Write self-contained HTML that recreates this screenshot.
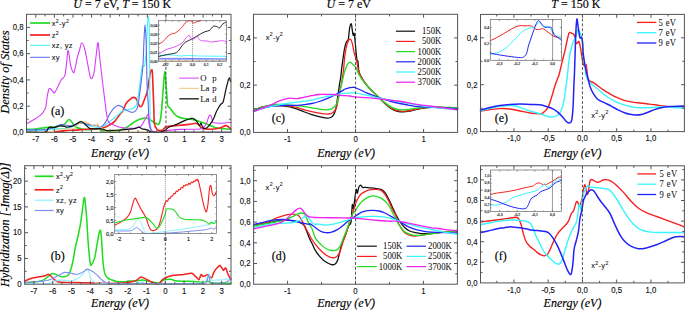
<!DOCTYPE html><html><head><meta charset="utf-8"><style>html,body{margin:0;padding:0;background:#fff;overflow:hidden}svg{display:block}</style></head><body><svg width="685" height="310" viewBox="0 0 685 310">
<style>.tk{font-family:"Liberation Sans",sans-serif;fill:#111;stroke:#111;stroke-width:0.12px}.sr{font-family:"Liberation Serif",serif;fill:#000;stroke:#000;stroke-width:0.15px}.ti{font-family:"Liberation Serif",serif;fill:#000;stroke:#000;stroke-width:0.15px}.tki{font-family:"Liberation Sans",sans-serif;fill:#111;stroke:#111;stroke-width:0.28px}.lg{font-family:"Liberation Sans",sans-serif;fill:#111;stroke:#111;stroke-width:0.08px}.lgs{font-family:"Liberation Serif",serif;fill:#111;stroke:#111;stroke-width:0.05px}</style>
<rect width="685" height="310" fill="#fff"/>
<path d="M26.50 129.30C27.97 129.25 32.69 129.27 35.70 129.00C38.71 128.73 43.14 127.89 45.30 127.60C47.46 127.31 47.65 127.34 49.20 127.20C50.75 127.06 52.68 127.08 55.00 126.70C57.32 126.32 61.46 125.95 63.70 124.80C65.94 123.65 67.37 119.50 69.00 119.50C70.63 119.50 72.78 123.57 73.90 124.80C75.02 126.03 74.90 126.58 76.00 127.20C77.10 127.82 79.25 128.32 80.80 128.70C82.35 129.08 84.15 129.46 85.70 129.60C87.25 129.74 88.96 129.74 90.50 129.60C92.04 129.46 93.91 128.78 95.30 128.70C96.69 128.62 97.95 128.72 99.20 129.10C100.45 129.48 101.40 130.70 103.10 131.10C104.80 131.50 107.64 131.60 109.80 131.60C111.96 131.60 114.97 131.34 116.60 131.10C118.23 130.86 118.69 130.56 120.00 130.10C121.31 129.64 123.25 128.97 124.80 128.20C126.35 127.43 128.15 126.31 129.70 125.30C131.25 124.29 132.96 122.83 134.50 121.90C136.04 120.97 137.75 120.12 139.30 119.50C140.85 118.88 142.81 118.16 144.20 118.00C145.59 117.84 146.77 118.04 148.00 118.50C149.23 118.96 150.65 120.13 151.90 120.90C153.15 121.67 154.71 122.76 155.80 123.30C156.89 123.84 157.93 125.07 158.70 124.30C159.47 123.53 160.06 121.75 160.60 118.50C161.14 115.25 161.64 109.36 162.10 104.00C162.56 98.64 163.07 90.20 163.50 85.00C163.93 79.80 164.40 71.68 164.80 71.50C165.20 71.32 165.62 79.24 166.00 83.90C166.38 88.56 166.90 97.06 167.20 100.60C167.50 104.14 167.34 104.67 167.90 106.00C168.46 107.33 169.68 107.67 170.70 108.90C171.72 110.13 173.15 112.44 174.30 113.70C175.45 114.96 176.36 116.03 177.90 116.80C179.44 117.57 181.80 118.12 183.90 118.50C186.00 118.88 188.71 118.82 191.00 119.20C193.29 119.58 195.53 120.07 198.20 120.90C200.87 121.73 204.64 123.26 207.70 124.40C210.76 125.54 213.86 127.23 217.30 128.00C220.74 128.77 227.01 129.01 229.20 129.20C231.00 129.39 230.71 129.20 231.00 129.20" fill="none" stroke="#1edc1e" stroke-width="1.6" stroke-linejoin="round" stroke-linecap="round"/>
<path d="M55.00 132.00C56.55 131.78 61.34 130.90 64.70 130.60C68.06 130.30 72.64 130.31 76.00 130.10C79.36 129.89 82.61 129.52 85.70 129.30C88.79 129.08 92.98 128.88 95.30 128.70C97.62 128.52 98.65 128.44 100.20 128.20C101.75 127.96 103.46 127.74 105.00 127.20C106.54 126.66 108.25 125.73 109.80 124.80C111.35 123.87 113.07 123.10 114.70 121.40C116.33 119.70 118.69 115.90 120.00 114.20C121.31 112.50 121.92 112.51 122.90 110.80C123.88 109.09 124.80 105.44 126.10 103.50C127.40 101.56 129.70 99.68 131.00 98.70C132.30 97.72 133.30 97.27 134.20 97.40C135.10 97.53 135.83 98.25 136.60 99.50C137.37 100.75 138.36 104.03 139.00 105.20C139.64 106.37 140.07 106.80 140.60 106.80C141.13 106.80 141.64 106.50 142.30 105.20C142.96 103.90 143.93 100.76 144.70 98.70C145.47 96.64 146.46 94.88 147.10 92.30C147.74 89.72 148.19 85.70 148.70 82.60C149.21 79.50 149.84 74.96 150.30 72.90C150.76 70.84 151.26 69.70 151.60 69.70C151.94 69.70 152.14 69.28 152.40 72.90C152.66 76.52 152.96 86.36 153.20 92.30C153.44 98.24 153.72 105.04 153.90 110.00C154.08 114.96 153.90 120.24 154.30 123.30C154.76 126.36 155.94 127.93 156.80 129.10C157.66 130.27 158.77 130.47 159.70 130.60C160.63 130.73 161.67 130.44 162.60 129.90C163.53 129.36 164.57 127.76 165.50 127.20C166.43 126.64 166.88 126.62 168.40 126.40C169.92 126.18 171.77 126.12 175.00 125.80C178.23 125.48 185.27 124.82 188.60 124.40C191.93 123.98 194.14 123.10 195.80 123.20C197.46 123.30 198.04 124.23 199.00 125.00C199.96 125.77 200.04 127.33 201.80 128.00C203.56 128.67 207.14 129.20 210.00 129.20C212.86 129.20 217.20 128.58 219.70 128.00C222.20 127.42 224.27 125.84 225.60 125.60C226.93 125.36 227.23 126.00 228.00 126.50C228.77 127.00 230.02 128.35 230.40 128.70" fill="none" stroke="#f52020" stroke-width="1.6" stroke-linejoin="round" stroke-linecap="round"/>
<path d="M26.50 130.30C29.51 130.30 41.51 130.49 45.30 130.30C49.09 130.11 47.88 129.36 50.20 129.10C52.52 128.84 56.71 128.92 59.80 128.70C62.89 128.48 66.91 128.24 69.50 127.70C72.09 127.16 74.19 126.00 76.00 125.30C77.81 124.60 79.25 123.46 80.80 123.30C82.35 123.14 84.15 123.84 85.70 124.30C87.25 124.76 88.18 125.74 90.50 126.20C92.82 126.66 97.88 127.34 100.20 127.20C102.52 127.06 103.46 126.23 105.00 125.30C106.54 124.37 108.25 122.65 109.80 121.40C111.35 120.15 113.07 118.81 114.70 117.50C116.33 116.19 118.69 114.27 120.00 113.20C121.31 112.13 121.67 111.34 122.90 110.80C124.13 110.26 126.15 110.18 127.70 109.80C129.25 109.42 131.27 109.02 132.60 108.40C133.93 107.78 135.23 107.08 136.00 105.90C136.77 104.72 136.79 104.47 137.40 101.00C138.01 97.53 139.14 89.21 139.80 84.20C140.46 79.19 141.10 72.53 141.50 69.70C141.90 66.87 141.79 67.28 142.30 66.50C142.81 65.72 144.06 67.44 144.70 64.80C145.34 62.16 145.87 56.37 146.30 50.00C146.73 43.63 147.08 30.36 147.40 25.00C147.72 19.64 148.01 16.50 148.30 16.50C148.59 16.50 148.99 19.64 149.20 25.00C149.41 30.36 149.50 41.20 149.60 50.00C149.70 58.80 149.74 70.66 149.80 80.00C149.86 89.34 149.94 101.47 150.00 108.40C150.06 115.33 150.00 119.75 150.20 123.30C150.50 126.85 151.16 129.22 151.90 130.60C152.64 131.98 151.90 131.68 154.80 131.90C167.46 132.12 218.81 131.98 231.00 132.00" fill="none" stroke="#38f4ff" stroke-width="1.1" stroke-linejoin="round" stroke-linecap="round"/>
<path d="M26.50 129.90C29.51 129.84 41.06 129.85 45.30 129.50C49.54 129.15 50.52 128.50 53.00 127.70C55.48 126.90 58.93 124.93 60.80 124.50C62.67 124.07 62.99 124.79 64.70 125.00C66.41 125.21 69.80 125.91 71.50 125.80C73.20 125.69 73.81 124.76 75.30 124.30C76.79 123.84 79.14 122.98 80.80 122.90C82.46 122.82 84.15 123.45 85.70 123.80C87.25 124.15 88.96 124.86 90.50 125.10C92.04 125.34 93.75 125.04 95.30 125.30C96.85 125.56 98.95 126.70 100.20 126.70C101.45 126.70 102.17 126.15 103.10 125.30C104.03 124.45 105.07 122.95 106.00 121.40C106.93 119.85 107.97 117.30 108.90 115.60C109.83 113.90 110.87 112.11 111.80 110.80C112.73 109.49 113.77 108.25 114.70 107.40C115.63 106.55 116.67 105.74 117.60 105.50C118.53 105.26 119.57 105.52 120.50 105.90C121.43 106.28 122.52 107.28 123.40 107.90C124.28 108.52 124.99 109.19 126.00 109.80C127.01 110.41 128.50 111.32 129.70 111.70C130.90 112.08 132.43 112.50 133.50 112.20C134.57 111.90 135.70 110.81 136.40 109.80C137.10 108.79 137.48 107.68 137.90 105.90C138.32 104.12 138.42 102.94 139.00 98.70C139.58 94.46 140.86 84.82 141.50 79.40C142.14 73.98 142.60 71.10 143.00 64.80C143.40 58.50 143.68 46.42 144.00 40.00C144.32 33.58 144.66 24.70 145.00 24.70C145.34 24.70 145.84 34.35 146.10 40.00C146.36 45.65 146.44 52.93 146.60 60.00C146.76 67.07 146.83 76.84 147.10 84.20C147.37 91.56 148.00 99.74 148.30 106.00C148.60 112.26 148.57 119.44 149.00 123.30C149.43 127.16 150.38 128.77 151.00 130.10C151.62 131.43 151.46 131.33 152.90 131.60C154.34 131.87 152.90 131.77 160.00 131.80C172.50 131.83 219.64 131.80 231.00 131.80" fill="none" stroke="#5a6af0" stroke-width="1.1" stroke-linejoin="round" stroke-linecap="round"/>
<path d="M26.50 123.80C27.19 123.42 29.33 122.25 30.80 121.40C32.27 120.55 34.15 119.51 35.70 118.50C37.25 117.49 39.27 116.19 40.50 115.10C41.73 114.01 42.55 113.01 43.40 111.70C44.25 110.39 45.22 109.09 45.80 106.90C46.38 104.71 46.55 100.70 47.00 98.00C47.45 95.30 48.17 91.54 48.60 90.00C49.03 88.46 49.09 88.27 49.70 88.40C50.31 88.53 51.65 90.08 52.40 90.80C53.15 91.52 53.50 93.62 54.40 92.90C55.30 92.18 56.88 88.44 58.00 86.30C59.12 84.16 60.31 81.20 61.40 79.50C62.49 77.80 63.97 78.40 64.80 75.70C65.63 73.00 66.06 66.68 66.60 62.60C67.14 58.52 67.58 49.85 68.20 50.20C68.82 50.55 69.78 61.38 70.50 64.80C71.22 68.22 72.09 70.51 72.70 71.60C73.31 72.69 73.58 73.78 74.30 71.60C75.02 69.42 76.37 61.42 77.20 58.00C78.03 54.58 78.76 52.65 79.50 50.20C80.24 47.75 80.97 42.89 81.80 42.70C82.63 42.51 83.80 45.82 84.70 49.00C85.60 52.18 86.54 58.26 87.40 62.60C88.26 66.94 89.38 73.57 90.10 76.10C90.82 78.63 91.24 79.12 91.90 78.40C92.56 77.68 93.48 75.58 94.20 71.60C94.92 67.62 95.79 58.12 96.40 53.50C97.01 48.88 97.46 41.98 98.00 42.70C98.54 43.42 99.14 52.29 99.80 58.00C100.46 63.71 101.38 72.26 102.10 78.40C102.82 84.54 103.76 91.98 104.30 96.40C104.84 100.82 105.15 103.23 105.50 106.00C105.85 108.77 106.12 111.40 106.50 113.70C106.88 116.00 107.37 118.86 107.90 120.40C108.43 121.94 108.71 122.52 109.80 123.30C110.89 124.08 113.07 124.68 114.70 125.30C116.33 125.92 117.60 126.74 120.00 127.20C122.40 127.66 126.92 128.12 129.70 128.20C132.48 128.28 135.54 128.08 137.40 127.70C139.26 127.32 140.21 126.89 141.30 125.80C142.39 124.71 143.35 122.37 144.20 120.90C145.05 119.43 145.96 117.67 146.60 116.60C147.24 115.53 147.82 113.90 148.20 114.20C148.58 114.50 148.71 116.42 149.00 118.50C149.29 120.58 149.62 125.26 150.00 127.20C150.38 129.14 150.79 129.90 151.40 130.60C152.01 131.30 151.86 131.44 153.80 131.60C155.74 131.76 161.48 131.76 163.50 131.60C165.52 131.44 165.04 130.86 166.40 130.60C167.76 130.34 169.82 130.19 172.00 130.00C174.18 129.81 176.32 129.53 180.00 129.40C183.68 129.27 191.80 129.26 195.00 129.20C198.20 129.14 198.56 129.35 200.00 129.00C201.44 128.65 202.88 128.12 204.00 127.00C205.12 125.88 206.20 123.76 207.00 122.00C207.80 120.24 208.42 117.06 209.00 116.00C209.58 114.94 210.12 114.92 210.60 115.40C211.08 115.88 211.62 117.86 212.00 119.00C212.38 120.14 212.00 121.83 213.00 122.50C214.60 123.17 219.41 123.20 222.00 123.20C224.59 123.20 227.76 122.61 229.20 122.50C230.64 122.39 230.71 122.50 231.00 122.50" fill="none" stroke="#d83cf8" stroke-width="1.1" stroke-linejoin="round" stroke-linecap="round"/>
<path d="M26.50 132.20C29.51 132.17 41.06 132.19 45.30 132.00C49.54 131.81 50.68 131.43 53.00 131.00C55.32 130.57 57.62 129.62 59.80 129.30C61.98 128.98 64.26 129.10 66.60 129.00C68.94 128.90 72.90 129.21 74.40 128.70C75.90 128.19 75.12 126.66 76.00 125.80C76.88 124.94 78.51 123.92 79.90 123.30C81.29 122.68 83.16 121.82 84.70 121.90C86.24 121.98 88.11 123.18 89.50 123.80C90.89 124.42 92.31 125.48 93.40 125.80C94.49 126.12 95.64 126.12 96.30 125.80C96.96 125.48 97.12 123.80 97.50 123.80C97.88 123.80 98.12 125.26 98.70 125.80C99.28 126.34 100.25 126.43 101.10 127.20C101.95 127.97 102.91 129.83 104.00 130.60C105.09 131.37 104.00 131.78 107.90 132.00C128.22 132.22 211.30 132.00 231.00 132.00" fill="none" stroke="#f0c47a" stroke-width="1.1" stroke-linejoin="round" stroke-linecap="round"/>
<path d="M26.50 132.00C29.51 132.00 41.83 132.61 45.30 132.00C48.20 131.39 47.42 128.97 48.20 128.20C48.98 127.43 49.27 127.28 50.20 127.20C51.13 127.12 52.46 127.89 54.00 127.70C55.54 127.51 58.09 126.21 59.80 126.00C61.51 125.79 63.61 126.21 64.70 126.40C65.79 126.59 65.51 127.20 66.60 127.20C67.69 127.20 70.11 126.78 71.50 126.40C72.89 126.02 74.12 125.44 75.30 124.80C76.48 124.16 77.94 122.90 78.90 122.40C79.86 121.90 80.53 121.62 81.30 121.70C82.07 121.78 82.85 122.24 83.70 122.90C84.55 123.56 85.51 124.87 86.60 125.80C87.69 126.73 88.48 128.24 90.50 128.70C92.52 129.16 97.18 128.60 99.20 128.70C101.22 128.80 101.85 129.00 103.10 129.30C104.35 129.60 105.45 130.44 107.00 130.60C108.55 130.76 110.72 130.38 112.80 130.30C114.88 130.22 117.62 130.26 120.00 130.10C122.38 129.94 125.38 129.52 127.70 129.30C130.02 129.08 132.79 129.04 134.50 128.70C136.21 128.36 137.47 127.36 138.40 127.20C139.33 127.04 139.69 127.41 140.30 127.70C140.91 127.99 141.43 128.74 142.20 129.00C142.97 129.26 144.17 129.12 145.10 129.30C146.03 129.48 147.22 129.73 148.00 130.10C148.78 130.47 149.07 131.26 150.00 131.60C150.93 131.94 152.10 132.14 153.80 132.20C155.50 132.26 158.89 132.26 160.60 132.00C162.31 131.74 163.08 131.43 164.50 130.60C165.92 129.77 167.55 127.79 169.50 126.80C171.45 125.81 174.40 125.34 176.70 124.40C179.00 123.46 181.61 121.84 183.90 120.90C186.19 119.96 189.48 118.88 191.00 118.50C192.52 118.12 192.44 118.00 193.40 118.50C194.36 119.00 196.04 120.46 197.00 121.60C197.96 122.74 198.76 125.34 199.40 125.60C200.04 125.86 200.42 122.82 201.00 123.20C201.58 123.58 202.12 127.23 203.00 128.00C203.88 128.77 205.38 128.58 206.50 128.00C207.62 127.42 208.85 125.92 210.00 124.40C211.15 122.88 212.74 120.40 213.70 118.50C214.66 116.60 215.23 114.23 216.00 112.50C216.77 110.77 217.72 109.03 218.50 107.70C219.28 106.37 220.15 105.14 220.90 104.20C221.65 103.26 222.45 103.91 223.20 101.80C223.95 99.69 224.94 93.86 225.60 91.00C226.26 88.14 226.72 86.00 227.30 83.90C227.88 81.80 228.67 78.28 229.20 77.90C229.73 77.52 230.38 80.92 230.60 81.50" fill="none" stroke="#111111" stroke-width="1.2" stroke-linejoin="round" stroke-linecap="round"/>
<path d="M253.50 110.00C255.02 109.49 259.88 107.50 263.00 106.80C266.12 106.10 269.80 105.76 273.00 105.60C276.20 105.44 280.28 105.59 283.00 105.80C285.72 106.01 287.71 106.37 290.00 106.90C292.29 107.43 294.98 108.28 297.30 109.10C299.62 109.92 302.18 111.12 304.50 112.00C306.82 112.88 309.46 113.86 311.80 114.60C314.14 115.34 316.78 116.04 319.10 116.60C321.42 117.16 324.44 117.96 326.30 118.10C328.16 118.24 329.53 118.01 330.70 117.50C331.87 116.99 332.78 116.24 333.60 114.90C334.42 113.56 335.22 111.44 335.80 109.10C336.38 106.76 336.74 103.32 337.20 100.30C337.66 97.28 338.30 92.98 338.70 90.20C339.10 87.42 339.40 84.85 339.70 82.90C340.00 80.95 340.31 80.06 340.60 78.00C340.89 75.94 341.20 72.50 341.50 70.00C341.80 67.50 342.02 65.78 342.50 62.40C342.98 59.02 343.88 52.15 344.50 48.90C345.12 45.65 345.79 43.65 346.40 42.10C347.01 40.55 347.77 41.52 348.30 39.20C348.83 36.88 349.22 30.08 349.70 27.60C350.18 25.12 350.90 23.40 351.30 23.70C351.70 24.00 351.90 27.64 352.20 29.50C352.50 31.36 352.88 34.68 353.20 35.30C353.52 35.92 353.90 32.47 354.20 33.40C354.50 34.33 354.80 38.00 355.10 41.10C355.40 44.20 355.78 49.70 356.10 52.80C356.42 55.90 356.80 59.11 357.10 60.50C357.40 61.89 357.70 59.69 358.00 61.50C358.30 63.31 358.25 68.90 359.00 71.80C359.75 74.70 361.18 77.12 362.70 79.60C364.22 82.08 366.63 85.14 368.50 87.30C370.37 89.46 372.53 91.24 374.40 93.10C376.27 94.96 378.34 97.08 380.20 98.90C382.06 100.72 384.14 102.90 386.00 104.50C387.86 106.10 389.94 107.81 391.80 108.90C393.66 109.99 395.74 110.82 397.60 111.30C399.46 111.78 401.54 111.92 403.40 111.90C405.26 111.88 407.34 111.54 409.20 111.20C411.06 110.86 412.47 110.34 415.00 109.80C417.53 109.26 422.07 108.18 425.00 107.80C427.93 107.42 430.63 107.45 433.30 107.40C435.97 107.35 439.01 107.42 441.70 107.50C444.39 107.58 447.56 107.76 450.10 107.90C452.64 108.04 456.40 108.32 457.60 108.40" fill="none" stroke="#111111" stroke-width="1.3" stroke-linejoin="round" stroke-linecap="round"/>
<path d="M253.50 110.00C255.02 109.49 259.88 107.50 263.00 106.80C266.12 106.10 269.80 105.79 273.00 105.60C276.20 105.41 280.28 105.50 283.00 105.60C285.72 105.70 287.71 105.88 290.00 106.20C292.29 106.52 294.98 107.02 297.30 107.60C299.62 108.18 302.18 109.14 304.50 109.80C306.82 110.46 309.46 111.17 311.80 111.70C314.14 112.23 316.78 112.70 319.10 113.10C321.42 113.50 324.44 114.10 326.30 114.20C328.16 114.30 329.53 114.05 330.70 113.70C331.87 113.35 332.67 112.98 333.60 112.00C334.53 111.02 335.80 109.47 336.50 107.60C337.20 105.73 337.42 103.08 338.00 100.30C338.58 97.52 339.52 92.98 340.10 90.20C340.68 87.42 341.25 84.85 341.60 82.90C341.95 80.95 342.00 80.06 342.30 78.00C342.60 75.94 343.07 73.73 343.50 70.00C343.93 66.27 344.38 59.00 345.00 54.70C345.62 50.40 346.55 45.58 347.40 43.10C348.25 40.62 349.53 39.20 350.30 39.20C351.07 39.20 351.58 40.92 352.20 43.10C352.82 45.28 353.48 49.86 354.20 52.80C354.92 55.74 355.95 58.49 356.70 61.50C357.45 64.51 357.94 68.74 358.90 71.60C359.86 74.46 361.16 76.92 362.70 79.40C364.24 81.88 366.63 84.94 368.50 87.10C370.37 89.26 372.53 91.04 374.40 92.90C376.27 94.76 378.34 96.91 380.20 98.70C382.06 100.49 384.14 102.55 386.00 104.10C387.86 105.65 389.94 107.34 391.80 108.40C393.66 109.46 395.74 110.24 397.60 110.70C399.46 111.16 401.54 111.30 403.40 111.30C405.26 111.30 407.34 111.00 409.20 110.70C411.06 110.40 412.47 109.90 415.00 109.40C417.53 108.90 422.07 107.95 425.00 107.60C427.93 107.25 430.63 107.25 433.30 107.20C435.97 107.15 439.01 107.22 441.70 107.30C444.39 107.38 447.56 107.56 450.10 107.70C452.64 107.84 456.40 108.12 457.60 108.20" fill="none" stroke="#f52020" stroke-width="1.3" stroke-linejoin="round" stroke-linecap="round"/>
<path d="M253.50 110.30C255.02 109.77 259.99 107.91 263.00 107.00C266.01 106.09 269.77 105.02 272.30 104.60C274.83 104.18 275.97 104.32 278.80 104.40C281.63 104.48 287.04 104.88 290.00 105.10C292.96 105.32 294.98 105.56 297.30 105.80C299.62 106.04 302.18 106.26 304.50 106.60C306.82 106.94 309.46 107.50 311.80 107.90C314.14 108.30 316.78 108.80 319.10 109.10C321.42 109.40 324.44 109.80 326.30 109.80C328.16 109.80 329.53 109.45 330.70 109.10C331.87 108.75 332.67 108.42 333.60 107.60C334.53 106.78 335.80 105.39 336.50 104.00C337.20 102.61 337.42 101.11 338.00 98.90C338.58 96.69 339.46 92.76 340.10 90.20C340.74 87.64 341.54 84.85 342.00 82.90C342.46 80.95 342.60 79.74 343.00 78.00C343.40 76.26 343.80 74.18 344.50 72.00C345.20 69.82 346.47 65.98 347.40 64.40C348.33 62.82 349.37 62.04 350.30 62.10C351.23 62.16 352.29 63.90 353.20 64.80C354.11 65.70 355.09 66.15 356.00 67.70C356.91 69.25 357.83 72.48 358.90 74.50C359.97 76.52 361.16 78.28 362.70 80.30C364.24 82.32 366.63 85.08 368.50 87.10C370.37 89.12 372.53 91.04 374.40 92.90C376.27 94.76 378.34 97.00 380.20 98.70C382.06 100.40 384.14 102.11 386.00 103.50C387.86 104.89 389.94 106.46 391.80 107.40C393.66 108.34 395.74 109.00 397.60 109.40C399.46 109.80 401.54 109.90 403.40 109.90C405.26 109.90 407.34 109.64 409.20 109.40C411.06 109.16 412.47 108.74 415.00 108.40C417.53 108.06 422.07 107.51 425.00 107.30C427.93 107.09 430.63 107.12 433.30 107.10C435.97 107.08 439.01 107.14 441.70 107.20C444.39 107.26 447.56 107.37 450.10 107.50C452.64 107.63 456.40 107.92 457.60 108.00" fill="none" stroke="#1edc1e" stroke-width="1.3" stroke-linejoin="round" stroke-linecap="round"/>
<path d="M253.50 111.50C255.02 110.94 259.88 108.88 263.00 108.00C266.12 107.12 269.80 106.40 273.00 106.00C276.20 105.60 280.28 105.60 283.00 105.50C285.72 105.40 287.71 105.42 290.00 105.40C292.29 105.38 294.98 105.51 297.30 105.40C299.62 105.29 302.18 105.00 304.50 104.70C306.82 104.40 309.46 104.01 311.80 103.50C314.14 102.99 316.78 102.24 319.10 101.50C321.42 100.76 323.98 99.83 326.30 98.90C328.62 97.97 331.26 96.87 333.60 95.70C335.94 94.53 339.04 92.67 340.90 91.60C342.76 90.53 343.74 89.64 345.20 89.00C346.66 88.36 348.75 87.87 350.00 87.60C351.25 87.33 352.20 87.32 353.00 87.30C353.80 87.28 353.75 87.07 355.00 87.50C356.25 87.93 358.94 89.14 360.80 90.00C362.66 90.86 364.42 91.97 366.60 92.90C368.78 93.83 371.92 94.87 374.40 95.80C376.88 96.73 379.64 97.87 382.10 98.70C384.56 99.53 387.32 100.31 389.80 101.00C392.28 101.69 395.12 102.44 397.60 103.00C400.08 103.56 402.52 103.96 405.30 104.50C408.08 105.04 411.85 106.00 415.00 106.40C418.15 106.80 422.07 106.84 425.00 107.00C427.93 107.16 430.63 107.29 433.30 107.40C435.97 107.51 439.01 107.57 441.70 107.70C444.39 107.83 447.56 108.01 450.10 108.20C452.64 108.39 456.40 108.79 457.60 108.90" fill="none" stroke="#2222f8" stroke-width="1.3" stroke-linejoin="round" stroke-linecap="round"/>
<path d="M253.50 112.00C255.02 111.36 259.88 108.96 263.00 108.00C266.12 107.04 269.80 106.64 273.00 106.00C276.20 105.36 280.28 104.48 283.00 104.00C285.72 103.52 287.71 103.30 290.00 103.00C292.29 102.70 294.98 102.40 297.30 102.10C299.62 101.80 302.18 101.42 304.50 101.10C306.82 100.78 309.46 100.56 311.80 100.10C314.14 99.64 316.78 98.74 319.10 98.20C321.42 97.66 323.98 97.16 326.30 96.70C328.62 96.24 331.26 95.76 333.60 95.30C335.94 94.84 338.28 94.15 340.90 93.80C343.52 93.45 347.74 93.24 350.00 93.10C352.26 92.96 352.34 92.56 355.00 92.90C357.66 93.24 362.26 94.27 366.60 95.20C370.94 96.13 377.14 97.68 382.10 98.70C387.06 99.72 392.34 100.67 397.60 101.60C402.86 102.53 410.62 103.75 415.00 104.50C419.38 105.25 422.07 105.87 425.00 106.30C427.93 106.73 430.63 106.90 433.30 107.20C435.97 107.50 439.01 107.93 441.70 108.20C444.39 108.47 447.56 108.63 450.10 108.90C452.64 109.17 456.40 109.74 457.60 109.90" fill="none" stroke="#38f4ff" stroke-width="1.3" stroke-linejoin="round" stroke-linecap="round"/>
<path d="M253.50 111.50C255.02 110.94 259.99 109.15 263.00 108.00C266.01 106.85 269.77 105.40 272.30 104.30C274.83 103.20 276.77 101.92 278.80 101.10C280.83 100.28 283.21 99.66 285.00 99.20C286.79 98.74 288.03 98.30 290.00 98.20C291.97 98.10 294.98 98.76 297.30 98.60C299.62 98.44 302.18 97.66 304.50 97.20C306.82 96.74 309.46 96.13 311.80 95.70C314.14 95.27 316.78 94.69 319.10 94.50C321.42 94.31 323.98 94.50 326.30 94.50C328.62 94.50 331.26 94.37 333.60 94.50C335.94 94.63 338.28 95.06 340.90 95.30C343.52 95.54 347.74 95.76 350.00 96.00C352.26 96.24 351.10 96.43 355.00 96.80C358.90 97.17 367.58 97.63 374.40 98.30C381.22 98.97 391.10 100.07 397.60 101.00C404.10 101.93 410.62 103.40 415.00 104.10C419.38 104.80 422.07 105.02 425.00 105.40C427.93 105.78 430.63 106.13 433.30 106.50C435.97 106.87 439.01 107.32 441.70 107.70C444.39 108.08 447.56 108.55 450.10 108.90C452.64 109.25 456.40 109.74 457.60 109.90" fill="none" stroke="#f020f0" stroke-width="1.3" stroke-linejoin="round" stroke-linecap="round"/>
<path d="M480.50 111.00C482.02 110.78 486.88 109.98 490.00 109.60C493.12 109.22 496.80 108.70 500.00 108.60C503.20 108.50 506.80 108.62 510.00 109.00C513.20 109.38 516.80 110.36 520.00 111.00C523.20 111.64 526.80 112.54 530.00 113.00C533.20 113.46 538.08 113.80 540.00 113.90C541.92 114.00 541.23 114.02 542.00 113.60C542.77 113.18 543.82 112.31 544.80 111.30C545.78 110.29 547.19 108.98 548.10 107.30C549.01 105.62 549.73 103.14 550.50 100.80C551.27 98.46 552.13 95.28 552.90 92.70C553.67 90.12 554.53 87.02 555.30 84.70C556.07 82.38 557.11 79.75 557.70 78.20C558.29 76.65 558.30 77.58 559.00 75.00C559.70 72.42 561.09 66.23 562.10 62.10C563.11 57.97 564.48 52.74 565.30 49.20C566.12 45.66 566.61 42.56 567.20 40.00C567.79 37.44 568.49 34.42 569.00 33.20C569.51 31.98 569.94 32.35 570.40 32.40C570.86 32.45 571.39 33.24 571.90 33.50C572.41 33.76 573.14 33.41 573.60 34.00C574.06 34.59 574.46 35.94 574.80 37.20C575.14 38.46 575.43 40.88 575.70 41.90C575.97 42.92 576.18 43.50 576.50 43.60C576.82 43.70 577.33 42.87 577.70 42.50C578.07 42.13 578.48 41.03 578.80 41.30C579.12 41.57 579.41 43.00 579.70 44.20C579.99 45.40 580.31 47.23 580.60 48.80C580.89 50.37 581.10 51.62 581.50 54.00C581.90 56.38 582.59 61.76 583.10 63.70C583.61 65.64 584.30 65.97 584.70 66.10C585.10 66.23 585.34 64.63 585.60 64.50C585.86 64.37 586.11 64.58 586.30 65.30C586.49 66.02 586.54 66.95 586.80 69.00C587.06 71.05 587.36 76.12 587.90 78.10C588.44 80.08 589.30 80.68 590.20 81.40C591.10 82.12 592.25 81.86 593.50 82.60C594.75 83.34 596.54 84.93 598.00 86.00C599.46 87.07 600.79 88.12 602.60 89.30C604.41 90.48 607.14 92.14 609.30 93.40C611.46 94.66 613.57 96.05 616.10 97.20C618.63 98.35 622.20 99.77 625.10 100.60C628.00 101.43 631.82 102.02 634.20 102.40C636.58 102.78 637.98 102.78 640.00 103.00C642.02 103.22 644.37 103.51 646.80 103.80C649.23 104.09 652.51 104.45 655.20 104.80C657.89 105.15 660.91 105.68 663.60 106.00C666.29 106.32 668.74 106.67 672.00 106.80C675.26 106.93 682.08 106.80 684.00 106.80" fill="none" stroke="#f52020" stroke-width="1.4" stroke-linejoin="round" stroke-linecap="round"/>
<path d="M480.50 111.00C482.02 110.58 486.88 109.14 490.00 108.40C493.12 107.66 496.80 106.85 500.00 106.40C503.20 105.95 507.44 105.66 510.00 105.60C512.56 105.54 514.40 105.68 516.00 106.00C517.60 106.32 517.76 106.80 520.00 107.60C522.24 108.40 526.80 110.02 530.00 111.00C533.20 111.98 537.63 112.96 540.00 113.70C542.37 114.44 543.25 115.09 544.80 115.60C546.35 116.11 548.15 116.74 549.70 116.90C551.25 117.06 553.09 116.98 554.50 116.60C555.91 116.22 557.33 115.73 558.50 114.50C559.67 113.27 560.89 111.35 561.80 108.90C562.71 106.45 563.56 102.56 564.20 99.20C564.84 95.84 565.34 91.26 565.80 87.90C566.26 84.54 566.52 83.10 567.10 78.20C567.68 73.30 568.65 62.45 569.40 57.30C570.15 52.15 571.03 48.85 571.80 46.00C572.57 43.15 573.54 41.00 574.20 39.50C574.86 38.00 575.39 37.96 575.90 36.60C576.41 35.24 577.02 32.14 577.40 31.00C577.78 29.86 577.88 29.24 578.30 29.50C578.72 29.76 579.54 31.54 580.00 32.60C580.46 33.66 580.88 35.08 581.20 36.10C581.52 37.12 581.76 37.70 582.00 39.00C582.24 40.30 582.52 41.80 582.70 44.20C582.88 46.60 582.86 51.14 583.10 54.00C583.34 56.86 583.82 60.04 584.20 62.10C584.58 64.16 585.28 65.08 585.50 66.90C585.60 68.72 585.50 71.36 585.60 73.50C585.98 75.64 586.99 78.67 587.90 80.30C588.81 81.93 589.68 82.26 591.30 83.70C592.92 85.14 595.84 87.49 598.00 89.30C600.16 91.11 602.62 93.37 604.80 95.00C606.98 96.63 609.42 98.24 611.60 99.50C613.78 100.76 616.24 102.00 618.40 102.90C620.56 103.80 622.57 104.38 625.10 105.10C627.63 105.82 630.73 106.98 634.20 107.40C637.67 107.82 642.10 107.80 646.80 107.70C651.50 107.60 659.57 106.88 663.60 106.80C667.63 106.72 668.74 106.98 672.00 107.20C675.26 107.42 682.08 108.04 684.00 108.20" fill="none" stroke="#38f4ff" stroke-width="1.4" stroke-linejoin="round" stroke-linecap="round"/>
<path d="M480.50 110.00C482.02 109.62 486.88 108.30 490.00 107.60C493.12 106.90 496.80 106.11 500.00 105.60C503.20 105.09 506.80 104.66 510.00 104.40C513.20 104.14 516.80 104.00 520.00 104.00C523.20 104.00 526.80 104.27 530.00 104.40C533.20 104.53 537.36 104.46 540.00 104.80C542.64 105.14 544.44 105.84 546.50 106.50C548.56 107.16 551.11 108.00 552.90 108.90C554.69 109.80 556.15 110.82 557.70 112.10C559.25 113.38 561.18 115.35 562.60 116.90C564.02 118.45 565.51 120.81 566.60 121.80C567.69 122.79 568.62 123.23 569.40 123.10C570.18 122.97 570.97 122.76 571.50 121.00C572.03 119.24 572.40 115.59 572.70 112.10C573.00 108.61 573.21 103.58 573.40 99.20C573.59 94.82 573.74 88.57 573.90 84.70C574.06 80.83 574.22 79.38 574.40 75.00C574.58 70.62 574.76 64.28 575.00 57.30C575.24 50.32 575.60 37.50 575.90 31.40C576.20 25.30 576.61 20.50 576.90 19.20C577.19 17.90 577.40 21.35 577.70 23.30C578.00 25.25 578.43 29.08 578.80 31.40C579.17 33.72 579.62 36.87 580.00 37.80C580.38 38.73 580.88 37.10 581.20 37.20C581.52 37.30 581.76 37.28 582.00 38.40C582.24 39.52 582.52 41.96 582.70 44.20C582.88 46.44 582.86 49.79 583.10 52.40C583.34 55.01 583.82 57.92 584.20 60.50C584.58 63.08 585.04 66.18 585.50 68.50C585.96 70.82 586.64 73.16 587.10 75.00C587.56 76.84 587.90 78.06 588.40 80.00C588.90 81.94 589.38 84.88 590.20 87.10C591.02 89.32 592.25 91.92 593.50 93.90C594.75 95.88 596.19 98.06 598.00 99.50C599.81 100.94 602.62 101.81 604.80 102.90C606.98 103.99 609.42 105.15 611.60 106.30C613.78 107.45 616.24 109.03 618.40 110.10C620.56 111.17 623.29 112.34 625.10 113.00C626.91 113.66 628.12 113.90 629.70 114.20C631.28 114.50 633.08 114.87 635.00 114.90C636.92 114.93 639.81 114.75 641.70 114.40C643.59 114.05 644.64 113.50 646.80 112.70C648.96 111.90 652.51 110.28 655.20 109.40C657.89 108.52 660.91 107.66 663.60 107.20C666.29 106.74 668.74 106.69 672.00 106.50C675.26 106.31 682.08 106.08 684.00 106.00" fill="none" stroke="#2222f8" stroke-width="1.5" stroke-linejoin="round" stroke-linecap="round"/>
<path d="M24.60 282.60C26.06 282.52 30.71 282.50 33.70 282.10C36.69 281.70 40.84 281.12 43.30 280.10C45.76 279.08 47.61 276.77 49.10 275.70C50.59 274.63 51.35 273.53 52.60 273.40C53.85 273.27 55.28 274.36 56.90 274.90C58.52 275.44 60.84 276.80 62.70 276.80C64.56 276.80 66.95 277.00 68.50 274.90C70.05 272.80 71.33 268.00 72.40 263.70C73.47 259.40 74.35 252.19 75.20 248.00C76.05 243.81 76.88 241.18 77.70 237.50C78.52 233.82 79.56 229.24 80.30 225.00C81.04 220.76 81.68 215.40 82.30 211.00C82.92 206.60 83.69 198.46 84.20 197.50C84.71 196.54 85.08 201.40 85.50 205.00C85.92 208.60 86.38 214.14 86.80 220.00C87.22 225.86 87.57 234.83 88.10 241.60C88.63 248.37 89.57 258.59 90.10 262.30C90.63 266.01 90.70 265.42 91.40 264.80C92.10 264.18 93.59 261.70 94.50 258.40C95.41 255.10 96.40 248.12 97.10 244.20C97.80 240.28 98.36 236.09 98.90 233.90C99.44 231.71 100.05 229.27 100.50 230.50C100.95 231.73 101.30 236.56 101.70 241.60C102.10 246.64 102.50 256.91 103.00 262.00C103.50 267.09 104.08 270.86 104.80 273.40C105.52 275.94 106.36 276.84 107.50 277.90C108.64 278.96 110.46 279.44 111.90 280.00C113.34 280.56 114.74 281.11 116.50 281.40C118.26 281.69 120.84 281.85 122.90 281.80C124.96 281.75 127.34 281.24 129.40 281.10C131.46 280.96 133.74 281.06 135.80 280.90C137.86 280.74 140.65 280.16 142.30 280.10C143.95 280.04 144.66 280.23 146.10 280.50C147.54 280.77 149.44 281.38 151.30 281.80C153.16 282.22 156.26 283.00 157.70 283.10C159.14 283.20 159.47 282.82 160.30 282.40C161.13 281.98 162.07 280.95 162.90 280.50C163.73 280.05 164.22 279.79 165.50 279.60C166.78 279.41 169.32 279.12 170.90 279.30C172.48 279.48 173.50 280.40 175.40 280.70C177.30 281.00 179.73 281.07 182.80 281.20C185.87 281.33 191.53 281.34 194.60 281.50C197.67 281.66 199.86 282.25 202.00 282.20C204.14 282.15 206.58 281.12 208.00 281.20C209.42 281.28 209.48 282.36 210.90 282.70C212.32 283.04 213.68 283.20 216.90 283.30C220.12 283.40 228.74 283.30 231.00 283.30" fill="none" stroke="#1edc1e" stroke-width="1.5" stroke-linejoin="round" stroke-linecap="round"/>
<path d="M24.60 281.10C25.74 280.64 29.32 278.89 31.70 278.20C34.08 277.51 37.32 277.20 39.50 276.80C41.68 276.40 43.91 276.10 45.30 275.70C46.69 275.30 47.27 274.20 48.20 274.30C49.13 274.40 50.01 275.37 51.10 276.30C52.19 277.23 53.77 279.17 55.00 280.10C56.23 281.03 56.02 281.70 58.80 282.10C61.58 282.50 66.77 282.46 72.40 282.60C78.03 282.74 87.98 282.86 94.00 283.00C100.02 283.14 105.38 283.48 110.00 283.50C114.62 283.52 119.40 283.37 122.90 283.10C126.40 282.83 129.63 282.33 131.90 281.80C134.17 281.27 135.69 280.57 137.10 279.80C138.51 279.03 139.68 277.30 140.70 277.00C141.72 276.70 142.22 277.34 143.50 277.90C144.78 278.46 147.04 279.67 148.70 280.50C150.36 281.33 152.25 282.62 153.90 283.10C155.55 283.58 157.66 284.03 159.00 283.50C160.34 282.97 161.47 280.63 162.30 279.80C163.13 278.97 163.48 278.70 164.20 278.30C164.92 277.90 165.97 277.62 166.80 277.30C167.63 276.98 168.26 276.62 169.40 276.30C170.54 275.98 172.24 275.54 173.90 275.30C175.56 275.06 177.91 274.99 179.80 274.80C181.69 274.61 183.80 274.34 185.70 274.10C187.60 273.86 190.28 273.06 191.70 273.30C193.12 273.54 193.77 274.88 194.60 275.60C195.43 276.32 196.23 277.14 196.90 277.80C197.57 278.46 198.34 279.70 198.80 279.70C199.26 279.70 199.40 278.65 199.80 277.80C200.20 276.95 200.82 274.64 201.30 274.40C201.78 274.16 202.21 276.06 202.80 276.30C203.39 276.54 204.30 276.14 205.00 275.90C205.70 275.66 206.50 274.74 207.20 274.80C207.90 274.86 208.68 275.82 209.40 276.30C210.12 276.78 211.11 278.15 211.70 277.80C212.29 277.45 212.64 275.17 213.10 274.10C213.56 273.03 213.99 272.06 214.60 271.10C215.21 270.14 216.26 268.85 216.90 268.10C217.54 267.35 218.09 266.82 218.60 266.40C219.11 265.98 219.56 265.23 220.10 265.50C220.64 265.77 221.46 267.32 222.00 268.10C222.54 268.88 223.02 270.40 223.50 270.40C223.98 270.40 224.60 268.42 225.00 268.10C225.40 267.78 225.65 267.79 226.00 268.40C226.35 269.01 226.77 270.75 227.20 271.90C227.63 273.05 228.22 274.54 228.70 275.60C229.18 276.66 229.83 277.96 230.20 278.50C230.57 279.04 230.87 278.92 231.00 279.00" fill="none" stroke="#f52020" stroke-width="1.5" stroke-linejoin="round" stroke-linecap="round"/>
<path d="M24.60 284.00C28.22 283.97 42.34 284.26 47.20 283.80C52.06 283.34 52.52 281.69 55.00 281.10C57.48 280.51 60.24 280.10 62.70 280.10C65.16 280.10 68.24 281.24 70.40 281.10C72.56 280.96 74.34 280.19 76.20 279.20C78.06 278.21 80.45 276.45 82.00 274.90C83.55 273.35 84.81 270.06 85.90 269.50C86.99 268.94 88.03 270.01 88.80 271.40C89.57 272.79 89.93 276.65 90.70 278.20C91.47 279.75 92.43 280.28 93.60 281.10C94.77 281.92 93.60 282.92 98.00 283.30C103.82 283.68 123.60 283.58 130.00 283.50C136.40 283.42 136.08 283.07 138.00 282.80C139.92 282.53 140.72 281.72 142.00 281.80C143.28 281.88 142.00 283.11 146.00 283.30C155.38 283.49 191.16 283.18 200.60 283.00C205.00 282.82 203.82 283.38 205.00 282.20C206.18 281.02 207.34 276.94 208.00 275.60C208.66 274.26 208.75 273.34 209.10 273.80C209.45 274.26 209.78 277.46 210.20 278.50C210.62 279.54 210.63 280.06 211.70 280.30C212.77 280.54 214.88 280.10 216.90 280.00C218.92 279.90 222.41 279.89 224.30 279.70C226.19 279.51 227.63 278.86 228.70 278.80C229.77 278.74 230.63 279.22 231.00 279.30" fill="none" stroke="#8ff0ff" stroke-width="1.1" stroke-linejoin="round" stroke-linecap="round"/>
<path d="M24.60 282.60C27.59 282.36 39.38 281.50 43.30 281.10C47.22 280.70 47.23 280.72 49.10 280.10C50.97 279.48 53.14 278.13 55.00 277.20C56.86 276.27 59.16 275.07 60.70 274.30C62.24 273.53 63.05 272.61 64.60 272.40C66.15 272.19 68.69 272.70 70.40 273.00C72.11 273.30 73.75 274.24 75.30 274.30C76.85 274.36 78.71 273.86 80.10 273.40C81.49 272.94 82.91 272.09 84.00 271.40C85.09 270.71 85.83 269.24 86.90 269.10C87.97 268.96 89.56 269.97 90.70 270.50C91.84 271.03 92.83 271.52 94.00 272.40C95.17 273.28 96.72 274.78 98.00 276.00C99.28 277.22 100.72 278.96 102.00 280.00C103.28 281.04 104.40 281.94 106.00 282.50C107.60 283.06 106.56 283.34 112.00 283.50C117.44 283.66 135.20 283.61 140.00 283.50C142.00 283.39 141.20 282.80 142.00 282.80C142.80 282.80 142.00 283.42 145.00 283.50C155.08 283.58 194.97 284.10 205.00 283.30C207.70 282.50 207.11 279.86 207.70 278.50C208.29 277.14 208.38 274.67 208.70 274.80C209.02 274.93 209.35 277.99 209.70 279.30C210.05 280.61 209.70 282.41 210.90 283.00C212.76 283.59 218.69 283.19 221.30 283.00C223.91 282.81 225.78 282.39 227.20 281.80C228.62 281.21 229.59 279.75 230.20 279.30C230.81 278.85 230.87 279.05 231.00 279.00" fill="none" stroke="#7d8ff0" stroke-width="1.1" stroke-linejoin="round" stroke-linecap="round"/>
<path d="M253.60 225.50C254.80 225.26 258.62 224.48 261.10 224.00C263.58 223.52 266.52 222.98 269.10 222.50C271.68 222.02 275.14 221.35 277.20 221.00C279.26 220.65 280.27 220.44 282.00 220.30C283.73 220.16 285.95 219.94 288.00 220.10C290.05 220.26 292.99 220.93 294.80 221.30C296.61 221.67 298.04 221.95 299.30 222.40C300.56 222.85 301.80 223.38 302.70 224.10C303.60 224.82 304.18 225.56 304.90 226.90C305.62 228.24 306.48 230.69 307.20 232.50C307.92 234.31 308.60 236.39 309.40 238.20C310.20 240.01 311.21 241.78 312.20 243.80C313.19 245.82 314.19 248.54 315.60 250.80C317.01 253.06 319.29 256.06 321.00 257.90C322.71 259.74 324.60 261.23 326.30 262.30C328.00 263.37 330.18 264.31 331.60 264.60C333.02 264.89 334.21 264.88 335.20 264.10C336.19 263.32 337.10 261.54 337.80 259.70C338.50 257.86 338.88 255.45 339.60 252.60C340.32 249.75 341.45 244.46 342.30 241.90C343.15 239.34 343.91 239.14 344.90 236.60C345.89 234.06 347.52 228.29 348.50 226.00C349.48 223.71 350.39 225.69 351.00 222.30C351.61 218.91 351.90 206.98 352.30 204.80C352.70 202.62 353.10 209.63 353.50 208.70C353.90 207.77 354.37 202.09 354.80 199.00C355.23 195.91 355.78 190.33 356.20 189.40C356.62 188.47 357.00 193.52 357.40 193.20C357.80 192.88 358.19 188.70 358.70 187.40C359.21 186.10 359.98 185.10 360.60 185.10C361.22 185.10 361.82 187.03 362.60 187.40C363.38 187.77 364.41 187.34 365.50 187.40C366.59 187.46 367.85 187.64 369.40 187.80C370.95 187.96 373.34 188.14 375.20 188.40C377.06 188.66 379.46 188.78 381.00 189.40C382.54 190.02 383.57 190.76 384.80 192.30C386.03 193.84 387.45 196.54 388.70 199.00C389.95 201.46 391.37 205.06 392.60 207.70C393.83 210.34 395.09 213.05 396.40 215.50C397.71 217.95 399.39 220.98 400.80 223.00C402.21 225.02 403.81 226.82 405.20 228.10C406.59 229.38 407.88 230.26 409.50 231.00C411.12 231.74 413.44 232.28 415.30 232.70C417.16 233.12 419.24 233.46 421.10 233.60C422.96 233.74 424.80 233.68 426.90 233.60C429.00 233.52 431.88 233.29 434.20 233.10C436.52 232.91 438.84 232.62 441.40 232.40C443.96 232.18 447.64 231.88 450.20 231.70C452.76 231.52 456.25 231.36 457.40 231.30" fill="none" stroke="#111111" stroke-width="1.3" stroke-linejoin="round" stroke-linecap="round"/>
<path d="M253.60 226.10C254.80 225.76 258.62 224.69 261.10 224.00C263.58 223.31 266.88 222.66 269.10 221.80C271.32 220.94 273.16 219.42 275.00 218.60C276.84 217.78 278.79 217.29 280.60 216.70C282.41 216.11 284.48 215.32 286.30 214.90C288.12 214.48 290.37 214.16 292.00 214.10C293.63 214.04 295.33 214.13 296.50 214.50C297.67 214.87 298.40 215.38 299.30 216.40C300.20 217.42 301.28 219.46 302.10 220.90C302.92 222.34 303.68 223.96 304.40 225.40C305.12 226.84 305.88 228.54 306.60 229.90C307.32 231.26 308.20 232.60 308.90 233.90C309.60 235.20 309.93 236.29 311.00 238.00C312.07 239.71 314.00 242.55 315.60 244.60C317.20 246.65 319.29 249.10 321.00 250.80C322.71 252.50 324.60 254.11 326.30 255.20C328.00 256.29 330.05 257.31 331.60 257.60C333.15 257.89 334.72 257.80 336.00 257.00C337.28 256.20 338.46 255.02 339.60 252.60C340.74 250.18 341.96 245.31 343.10 241.90C344.24 238.49 345.69 234.42 346.70 231.30C347.71 228.18 348.71 224.30 349.40 222.40C350.09 220.50 350.44 220.97 351.00 219.40C351.56 217.83 352.13 215.24 352.90 212.60C353.67 209.96 354.87 205.38 355.80 202.90C356.73 200.42 357.77 198.59 358.70 197.10C359.63 195.61 360.51 194.53 361.60 193.60C362.69 192.67 364.25 191.89 365.50 191.30C366.75 190.71 367.85 190.20 369.40 189.90C370.95 189.60 373.34 189.34 375.20 189.40C377.06 189.46 379.46 189.53 381.00 190.30C382.54 191.07 383.57 192.49 384.80 194.20C386.03 195.91 387.45 198.52 388.70 201.00C389.95 203.48 391.48 207.46 392.60 209.70C393.72 211.94 394.85 212.98 395.70 215.00C396.55 217.02 397.08 220.33 397.90 222.30C398.72 224.27 399.87 225.80 400.80 227.30C401.73 228.80 402.53 230.53 403.70 231.70C404.87 232.87 406.47 233.91 408.10 234.60C409.73 235.29 412.04 235.84 413.90 236.00C415.76 236.16 417.84 235.82 419.70 235.60C421.56 235.38 423.42 234.92 425.50 234.60C427.58 234.28 430.38 233.90 432.70 233.60C435.02 233.30 437.68 233.00 440.00 232.70C442.32 232.40 445.10 232.02 447.20 231.70C449.30 231.38 451.47 230.94 453.10 230.70C454.73 230.46 456.71 230.28 457.40 230.20" fill="none" stroke="#f52020" stroke-width="1.3" stroke-linejoin="round" stroke-linecap="round"/>
<path d="M253.60 226.10C255.26 225.76 260.58 224.66 264.00 224.00C267.42 223.34 272.34 222.50 275.00 222.00C277.66 221.50 278.79 221.35 280.60 220.90C282.41 220.45 284.48 219.84 286.30 219.20C288.12 218.56 290.19 217.72 292.00 216.90C293.81 216.08 296.06 214.72 297.60 214.10C299.14 213.48 300.51 213.00 301.60 213.00C302.69 213.00 303.60 213.28 304.40 214.10C305.20 214.92 305.88 216.56 306.60 218.10C307.32 219.64 307.99 221.89 308.90 223.70C309.81 225.51 311.23 227.05 312.30 229.40C313.37 231.75 314.21 235.97 315.60 238.40C316.99 240.83 319.29 242.95 321.00 244.60C322.71 246.25 324.60 247.76 326.30 248.70C328.00 249.64 329.90 250.31 331.60 250.50C333.30 250.69 335.48 250.70 336.90 249.90C338.32 249.10 339.36 247.63 340.50 245.50C341.64 243.37 342.86 239.45 344.00 236.60C345.14 233.75 346.61 230.39 347.60 227.70C348.59 225.01 349.35 222.07 350.20 219.80C351.05 217.53 352.16 214.81 352.90 213.50C353.64 212.19 353.71 213.14 354.80 211.60C355.89 210.06 357.99 205.98 359.70 203.90C361.41 201.82 363.64 199.85 365.50 198.60C367.36 197.35 369.75 196.50 371.30 196.10C372.85 195.70 373.65 195.78 375.20 196.10C376.75 196.42 379.14 197.01 381.00 198.10C382.86 199.19 385.26 201.20 386.80 202.90C388.34 204.60 389.37 206.54 390.60 208.70C391.83 210.86 393.56 214.75 394.50 216.40C395.44 218.05 395.96 217.94 396.50 219.00C397.04 220.06 397.21 221.67 397.90 223.00C398.59 224.33 399.87 226.02 400.80 227.30C401.73 228.58 402.53 229.99 403.70 231.00C404.87 232.01 406.47 232.91 408.10 233.60C409.73 234.29 412.04 235.03 413.90 235.30C415.76 235.57 417.84 235.41 419.70 235.30C421.56 235.19 423.42 234.87 425.50 234.60C427.58 234.33 430.38 233.90 432.70 233.60C435.02 233.30 437.68 232.94 440.00 232.70C442.32 232.46 445.10 232.32 447.20 232.10C449.30 231.88 451.47 231.48 453.10 231.30C454.73 231.12 456.71 231.05 457.40 231.00" fill="none" stroke="#1edc1e" stroke-width="1.3" stroke-linejoin="round" stroke-linecap="round"/>
<path d="M253.60 224.50C255.10 224.15 259.90 223.00 263.00 222.30C266.10 221.60 269.80 220.55 273.00 220.10C276.20 219.65 280.60 219.52 283.00 219.50C285.40 219.48 285.66 219.68 288.00 220.00C290.34 220.32 295.17 220.99 297.60 221.50C300.03 222.01 301.39 222.75 303.20 223.20C305.01 223.65 307.76 224.20 308.90 224.30C310.04 224.40 309.23 223.26 310.30 223.80C311.37 224.34 313.89 226.50 315.60 227.70C317.31 228.90 319.29 230.50 321.00 231.30C322.71 232.10 324.60 232.56 326.30 232.70C328.00 232.84 329.90 232.65 331.60 232.20C333.30 231.75 335.19 230.89 336.90 229.90C338.61 228.91 340.59 227.34 342.30 226.00C344.01 224.66 346.05 222.70 347.60 221.50C349.15 220.30 350.58 219.49 352.00 218.50C353.42 217.51 354.96 216.31 356.50 215.30C358.04 214.29 359.86 212.95 361.60 212.20C363.34 211.45 365.54 210.90 367.40 210.60C369.26 210.30 371.34 210.24 373.20 210.30C375.06 210.36 377.14 210.57 379.00 211.00C380.86 211.43 382.94 212.18 384.80 213.00C386.66 213.82 388.74 215.04 390.60 216.10C392.46 217.16 394.77 218.61 396.40 219.60C398.03 220.59 399.17 221.29 400.80 222.30C402.43 223.31 404.74 224.92 406.60 225.90C408.46 226.88 410.54 227.71 412.40 228.40C414.26 229.09 416.34 229.74 418.20 230.20C420.06 230.66 421.90 231.00 424.00 231.30C426.10 231.60 428.98 231.92 431.30 232.10C433.62 232.28 436.18 232.30 438.50 232.40C440.82 232.50 442.78 232.59 445.80 232.70C448.82 232.81 455.54 233.04 457.40 233.10" fill="none" stroke="#2222f8" stroke-width="1.3" stroke-linejoin="round" stroke-linecap="round"/>
<path d="M253.60 227.30C255.26 227.01 260.58 226.08 264.00 225.50C267.42 224.92 271.43 224.07 275.00 223.70C278.57 223.33 283.05 223.47 286.30 223.20C289.55 222.93 293.12 222.46 295.30 222.00C297.48 221.54 298.64 221.02 299.90 220.30C301.16 219.58 302.21 218.22 303.20 217.50C304.19 216.78 305.19 215.70 306.10 215.80C307.01 215.90 307.91 217.01 308.90 218.10C309.89 219.19 311.32 221.61 312.30 222.60C313.28 223.59 313.90 224.04 315.00 224.30C316.10 224.56 317.39 224.07 319.20 224.20C321.01 224.33 324.03 225.10 326.30 225.10C328.57 225.10 331.13 224.63 333.40 224.20C335.67 223.77 338.23 223.06 340.50 222.40C342.77 221.74 345.62 220.72 347.60 220.10C349.58 219.48 351.59 218.92 352.90 218.50C354.21 218.08 353.78 217.80 355.80 217.50C357.82 217.20 362.40 216.78 365.50 216.60C368.60 216.42 372.11 216.30 375.20 216.40C378.29 216.50 381.71 216.72 384.80 217.20C387.89 217.68 391.70 218.63 394.50 219.40C397.30 220.17 399.90 221.20 402.30 222.00C404.70 222.80 407.18 223.71 409.50 224.40C411.82 225.09 414.48 225.71 416.80 226.30C419.12 226.89 421.68 227.59 424.00 228.10C426.32 228.61 428.98 229.04 431.30 229.50C433.62 229.96 436.18 230.54 438.50 231.00C440.82 231.46 443.46 231.98 445.80 232.40C448.14 232.82 451.24 233.31 453.10 233.60C454.96 233.89 456.71 234.10 457.40 234.20" fill="none" stroke="#38f4ff" stroke-width="1.3" stroke-linejoin="round" stroke-linecap="round"/>
<path d="M253.60 229.00C255.26 228.62 260.58 227.35 264.00 226.60C267.42 225.85 272.34 224.94 275.00 224.30C277.66 223.66 278.79 223.42 280.60 222.60C282.41 221.78 284.48 220.64 286.30 219.20C288.12 217.76 290.37 215.14 292.00 213.60C293.63 212.06 295.24 210.48 296.50 209.60C297.76 208.72 298.91 208.00 299.90 208.10C300.89 208.20 301.80 209.24 302.70 210.20C303.60 211.16 304.51 213.06 305.50 214.10C306.49 215.14 307.38 216.16 308.90 216.70C310.42 217.24 312.79 217.34 315.00 217.50C317.21 217.66 318.62 217.65 322.70 217.70C326.78 217.75 335.96 217.75 340.50 217.80C345.04 217.85 348.03 217.87 351.10 218.00C354.17 218.13 356.77 218.34 359.70 218.60C362.63 218.86 366.31 219.30 369.40 219.60C372.49 219.90 375.91 220.24 379.00 220.50C382.09 220.76 386.14 221.09 388.70 221.20C391.26 221.31 392.82 221.07 395.00 221.20C397.18 221.33 399.98 221.65 402.30 222.00C404.62 222.35 407.18 222.94 409.50 223.40C411.82 223.86 414.48 224.44 416.80 224.90C419.12 225.36 421.68 225.84 424.00 226.30C426.32 226.76 428.98 227.45 431.30 227.80C433.62 228.15 436.18 228.21 438.50 228.50C440.82 228.79 443.46 229.28 445.80 229.60C448.14 229.92 451.24 230.28 453.10 230.50C454.96 230.72 456.71 230.92 457.40 231.00" fill="none" stroke="#f020f0" stroke-width="1.3" stroke-linejoin="round" stroke-linecap="round"/>
<path d="M480.50 222.10C481.72 221.92 485.60 221.34 488.10 221.00C490.60 220.66 493.52 220.34 496.10 220.00C498.68 219.66 501.61 219.27 504.20 218.90C506.79 218.53 510.36 217.96 512.30 217.70C514.24 217.44 515.28 217.11 516.30 217.30C517.32 217.49 517.93 217.75 518.70 218.90C519.47 220.05 520.33 222.05 521.10 224.50C521.87 226.95 522.72 231.48 523.50 234.20C524.28 236.92 524.96 239.53 526.00 241.50C527.04 243.47 528.74 245.22 530.00 246.50C531.26 247.78 532.67 248.48 533.90 249.50C535.13 250.52 536.47 251.99 537.70 252.90C538.93 253.81 540.51 254.74 541.60 255.20C542.69 255.66 543.57 255.93 544.50 255.80C545.43 255.67 546.47 255.49 547.40 254.40C548.33 253.31 549.37 250.94 550.30 249.00C551.23 247.06 552.11 244.62 553.20 242.30C554.29 239.98 555.85 236.52 557.10 234.50C558.35 232.48 559.77 231.09 561.00 229.70C562.23 228.31 563.92 226.71 564.80 225.80C565.68 224.89 565.84 224.90 566.50 224.00C567.16 223.10 568.13 221.85 568.90 220.20C569.67 218.55 570.53 215.25 571.30 213.70C572.07 212.15 572.93 212.31 573.70 210.50C574.47 208.69 575.51 203.82 576.10 202.40C576.69 200.98 577.02 201.34 577.40 201.60C577.78 201.86 578.13 203.36 578.50 204.00C578.87 204.64 579.30 205.86 579.70 205.60C580.10 205.34 580.58 203.68 581.00 202.40C581.42 201.12 581.92 199.54 582.30 197.60C582.68 195.66 583.10 192.11 583.40 190.30C583.70 188.49 583.94 187.20 584.20 186.30C584.46 185.40 584.74 184.44 585.00 184.70C585.26 184.96 585.54 186.62 585.80 187.90C586.06 189.18 586.30 191.66 586.60 192.70C586.90 193.74 587.36 194.91 587.70 194.40C588.04 193.89 588.36 191.56 588.70 189.50C589.04 187.44 589.35 183.10 589.80 181.50C590.25 179.90 590.84 179.64 591.50 179.50C592.16 179.36 593.00 180.15 593.90 180.60C594.80 181.05 596.08 182.16 597.10 182.30C598.12 182.44 599.28 181.90 600.30 181.50C601.32 181.10 602.46 180.07 603.50 179.80C604.54 179.53 605.76 179.67 606.80 179.80C607.84 179.93 608.64 179.90 610.00 180.60C611.36 181.30 613.20 182.39 615.30 184.20C617.40 186.01 620.62 189.21 623.10 191.90C625.58 194.59 628.34 198.39 630.80 201.00C633.26 203.61 636.02 206.34 638.50 208.20C640.98 210.06 643.40 211.27 646.30 212.60C649.20 213.93 653.30 215.27 656.60 216.50C659.90 217.73 663.59 219.07 666.90 220.30C670.21 221.53 674.56 223.16 677.30 224.20C680.04 225.24 682.93 226.38 684.00 226.80" fill="none" stroke="#f52020" stroke-width="1.4" stroke-linejoin="round" stroke-linecap="round"/>
<path d="M480.50 224.80C481.72 224.54 485.60 223.71 488.10 223.20C490.60 222.69 493.52 222.03 496.10 221.60C498.68 221.17 501.61 220.76 504.20 220.50C506.79 220.24 509.72 220.00 512.30 220.00C514.88 220.00 518.24 220.34 520.30 220.50C522.36 220.66 523.90 220.74 525.20 221.00C526.50 221.26 527.55 221.70 528.40 222.10C529.25 222.50 529.78 222.60 530.50 223.50C531.22 224.40 532.05 225.78 532.90 227.70C533.75 229.62 534.71 233.02 535.80 235.50C536.89 237.98 538.47 240.72 539.70 243.20C540.93 245.68 542.27 248.98 543.50 251.00C544.73 253.02 546.15 254.41 547.40 255.80C548.65 257.19 550.05 258.55 551.30 259.70C552.55 260.85 553.97 262.30 555.20 263.00C556.43 263.70 557.93 264.48 559.00 264.10C560.07 263.72 560.97 262.70 561.90 260.60C562.83 258.50 563.87 254.09 564.80 251.00C565.73 247.91 566.77 244.10 567.70 241.30C568.63 238.50 569.51 235.98 570.60 233.50C571.69 231.02 573.62 227.48 574.50 225.80C575.38 224.12 575.59 224.68 576.10 223.00C576.61 221.32 577.24 218.21 577.70 215.30C578.16 212.39 578.60 206.08 579.00 204.80C579.40 203.52 579.88 206.63 580.20 207.30C580.52 207.97 580.62 210.55 581.00 209.00C581.38 207.45 582.14 200.21 582.60 197.60C583.06 194.99 583.52 193.87 583.90 192.70C584.28 191.53 584.70 191.07 585.00 190.30C585.30 189.53 585.46 188.54 585.80 187.90C586.14 187.26 586.72 186.68 587.10 186.30C587.48 185.92 587.64 185.37 588.20 185.50C588.76 185.63 589.43 186.76 590.60 187.10C591.77 187.44 593.95 187.47 595.50 187.60C597.05 187.73 598.75 187.72 600.30 187.90C601.85 188.08 603.62 188.27 605.20 188.70C606.78 189.13 608.17 188.63 610.20 190.60C612.23 192.57 615.44 197.27 617.90 201.00C620.36 204.73 623.12 210.19 625.60 213.90C628.08 217.61 630.92 221.64 633.40 224.20C635.88 226.76 638.62 228.67 641.10 229.90C643.58 231.13 646.00 231.48 648.90 231.90C651.80 232.32 655.90 232.40 659.20 232.50C662.50 232.60 665.53 232.50 669.50 232.50C673.47 232.50 681.68 232.50 684.00 232.50" fill="none" stroke="#38f4ff" stroke-width="1.4" stroke-linejoin="round" stroke-linecap="round"/>
<path d="M480.50 232.60C481.72 232.34 485.60 231.58 488.10 231.00C490.60 230.42 493.52 229.53 496.10 229.00C498.68 228.47 502.14 228.04 504.20 227.70C506.26 227.36 507.70 227.03 509.00 226.90C510.30 226.77 510.49 226.77 512.30 226.90C514.11 227.03 517.72 227.30 520.30 227.70C522.88 228.10 526.37 229.00 528.40 229.40C530.43 229.80 531.51 230.01 533.00 230.20C534.49 230.39 535.70 230.38 537.70 230.60C539.70 230.82 543.63 231.14 545.50 231.60C547.37 232.06 548.17 232.41 549.40 233.50C550.63 234.59 551.97 236.53 553.20 238.40C554.43 240.27 555.85 242.72 557.10 245.20C558.35 247.68 559.77 250.97 561.00 253.90C562.23 256.83 563.73 260.81 564.80 263.50C565.87 266.19 566.82 268.92 567.70 270.70C568.58 272.48 569.68 274.34 570.30 274.60C570.92 274.86 571.17 274.22 571.60 272.30C572.03 270.38 572.60 266.33 573.00 262.60C573.40 258.87 573.60 252.41 574.10 249.00C574.60 245.59 575.41 244.08 576.10 241.30C576.79 238.52 577.86 234.69 578.40 231.60C578.94 228.51 579.21 224.35 579.50 222.00C579.79 219.65 579.83 218.74 580.20 216.90C580.57 215.06 581.29 213.08 581.80 210.50C582.31 207.92 582.89 202.99 583.40 200.80C583.91 198.61 584.49 197.97 585.00 196.80C585.51 195.63 585.96 194.41 586.60 193.50C587.24 192.59 588.22 191.69 589.00 191.10C589.78 190.51 590.72 189.80 591.50 189.80C592.28 189.80 593.00 190.11 593.90 191.10C594.80 192.09 596.08 194.45 597.10 196.00C598.12 197.55 599.28 199.39 600.30 200.80C601.32 202.21 602.46 203.50 603.50 204.80C604.54 206.10 605.73 207.44 606.80 208.90C607.87 210.36 608.84 211.24 610.20 213.90C611.56 216.56 613.65 222.00 615.30 225.50C616.95 229.00 618.85 233.11 620.50 235.80C622.15 238.49 623.95 240.65 625.60 242.30C627.25 243.95 628.74 245.08 630.80 246.10C632.86 247.12 636.02 248.41 638.50 248.70C640.98 248.99 643.40 248.52 646.30 247.90C649.20 247.28 653.30 246.03 656.60 244.80C659.90 243.57 664.00 241.45 666.90 240.20C669.80 238.95 672.60 237.61 674.70 237.00C676.80 236.39 678.45 236.43 680.00 236.40C681.55 236.37 683.70 236.74 684.40 236.80" fill="none" stroke="#2222f8" stroke-width="1.5" stroke-linejoin="round" stroke-linecap="round"/>
<line x1="165.93" y1="14.30" x2="165.93" y2="132.40" stroke="#444" stroke-width="0.9" stroke-dasharray="2.9,1.95" stroke-dashoffset="0.65"/>
<line x1="165.33" y1="165.70" x2="165.33" y2="284.20" stroke="#444" stroke-width="0.9" stroke-dasharray="2.9,1.95" stroke-dashoffset="0.65"/>
<line x1="355.55" y1="14.30" x2="355.55" y2="132.40" stroke="#444" stroke-width="0.9" stroke-dasharray="2.9,1.95" stroke-dashoffset="0.65"/>
<line x1="355.50" y1="165.70" x2="355.50" y2="284.20" stroke="#444" stroke-width="0.9" stroke-dasharray="2.9,1.95" stroke-dashoffset="0.65"/>
<line x1="582.45" y1="14.40" x2="582.45" y2="131.60" stroke="#444" stroke-width="0.9" stroke-dasharray="2.9,1.95" stroke-dashoffset="0.65"/>
<line x1="582.45" y1="165.80" x2="582.45" y2="282.90" stroke="#444" stroke-width="0.9" stroke-dasharray="2.9,1.95" stroke-dashoffset="0.65"/>
<rect x="26.50" y="14.30" width="204.50" height="118.10" fill="none" stroke="#555555" stroke-width="1.0"/>
<path d="M35.80 132.40v-3.4M35.80 14.30v3.4M45.09 132.40v-2.1M45.09 14.30v2.1M54.39 132.40v-3.4M54.39 14.30v3.4M63.68 132.40v-2.1M63.68 14.30v2.1M72.98 132.40v-3.4M72.98 14.30v3.4M82.27 132.40v-2.1M82.27 14.30v2.1M91.57 132.40v-3.4M91.57 14.30v3.4M100.86 132.40v-2.1M100.86 14.30v2.1M110.16 132.40v-3.4M110.16 14.30v3.4M119.45 132.40v-2.1M119.45 14.30v2.1M128.75 132.40v-3.4M128.75 14.30v3.4M138.05 132.40v-2.1M138.05 14.30v2.1M147.34 132.40v-3.4M147.34 14.30v3.4M156.64 132.40v-2.1M156.64 14.30v2.1M165.93 132.40v-3.4M165.93 14.30v3.4M175.23 132.40v-2.1M175.23 14.30v2.1M184.52 132.40v-3.4M184.52 14.30v3.4M193.82 132.40v-2.1M193.82 14.30v2.1M203.11 132.40v-3.4M203.11 14.30v3.4M212.41 132.40v-2.1M212.41 14.30v2.1M221.70 132.40v-3.4M221.70 14.30v3.4M26.50 119.28h2.1M231.00 119.28h-2.1M26.50 106.16h3.4M231.00 106.16h-3.4M26.50 93.03h2.1M231.00 93.03h-2.1M26.50 79.91h3.4M231.00 79.91h-3.4M26.50 66.79h2.1M231.00 66.79h-2.1M26.50 53.67h3.4M231.00 53.67h-3.4M26.50 40.54h2.1M231.00 40.54h-2.1M26.50 27.42h3.4M231.00 27.42h-3.4" stroke="#555555" stroke-width="1.0" fill="none"/>
<text class="tk" transform="translate(35.80,142.20) scale(1,1.08)" font-size="7.8px" text-anchor="middle">-7</text>
<text class="tk" transform="translate(54.39,142.20) scale(1,1.08)" font-size="7.8px" text-anchor="middle">-6</text>
<text class="tk" transform="translate(72.98,142.20) scale(1,1.08)" font-size="7.8px" text-anchor="middle">-5</text>
<text class="tk" transform="translate(91.57,142.20) scale(1,1.08)" font-size="7.8px" text-anchor="middle">-4</text>
<text class="tk" transform="translate(110.16,142.20) scale(1,1.08)" font-size="7.8px" text-anchor="middle">-3</text>
<text class="tk" transform="translate(128.75,142.20) scale(1,1.08)" font-size="7.8px" text-anchor="middle">-2</text>
<text class="tk" transform="translate(147.34,142.20) scale(1,1.08)" font-size="7.8px" text-anchor="middle">-1</text>
<text class="tk" transform="translate(165.93,142.20) scale(1,1.08)" font-size="7.8px" text-anchor="middle">0</text>
<text class="tk" transform="translate(184.52,142.20) scale(1,1.08)" font-size="7.8px" text-anchor="middle">1</text>
<text class="tk" transform="translate(203.11,142.20) scale(1,1.08)" font-size="7.8px" text-anchor="middle">2</text>
<text class="tk" transform="translate(221.70,142.20) scale(1,1.08)" font-size="7.8px" text-anchor="middle">3</text>
<text class="tk" transform="translate(23.50,135.20) scale(1,1.08)" font-size="7.8px" text-anchor="end">0,0</text>
<text class="tk" transform="translate(23.50,108.96) scale(1,1.08)" font-size="7.8px" text-anchor="end">0,2</text>
<text class="tk" transform="translate(23.50,82.71) scale(1,1.08)" font-size="7.8px" text-anchor="end">0,4</text>
<text class="tk" transform="translate(23.50,56.47) scale(1,1.08)" font-size="7.8px" text-anchor="end">0,6</text>
<text class="tk" transform="translate(23.50,30.22) scale(1,1.08)" font-size="7.8px" text-anchor="end">0,8</text>
<rect x="24.60" y="165.70" width="206.40" height="118.50" fill="none" stroke="#555555" stroke-width="1.0"/>
<path d="M33.98 284.20v-3.4M33.98 165.70v3.4M43.36 284.20v-2.1M43.36 165.70v2.1M52.75 284.20v-3.4M52.75 165.70v3.4M62.13 284.20v-2.1M62.13 165.70v2.1M71.51 284.20v-3.4M71.51 165.70v3.4M80.89 284.20v-2.1M80.89 165.70v2.1M90.27 284.20v-3.4M90.27 165.70v3.4M99.65 284.20v-2.1M99.65 165.70v2.1M109.04 284.20v-3.4M109.04 165.70v3.4M118.42 284.20v-2.1M118.42 165.70v2.1M127.80 284.20v-3.4M127.80 165.70v3.4M137.18 284.20v-2.1M137.18 165.70v2.1M146.56 284.20v-3.4M146.56 165.70v3.4M155.95 284.20v-2.1M155.95 165.70v2.1M165.33 284.20v-3.4M165.33 165.70v3.4M174.71 284.20v-2.1M174.71 165.70v2.1M184.09 284.20v-3.4M184.09 165.70v3.4M193.47 284.20v-2.1M193.47 165.70v2.1M202.85 284.20v-3.4M202.85 165.70v3.4M212.24 284.20v-2.1M212.24 165.70v2.1M221.62 284.20v-3.4M221.62 165.70v3.4M24.60 271.32h2.1M231.00 271.32h-2.1M24.60 258.44h3.4M231.00 258.44h-3.4M24.60 245.56h2.1M231.00 245.56h-2.1M24.60 232.68h3.4M231.00 232.68h-3.4M24.60 219.80h2.1M231.00 219.80h-2.1M24.60 206.92h3.4M231.00 206.92h-3.4M24.60 194.04h2.1M231.00 194.04h-2.1M24.60 181.16h3.4M231.00 181.16h-3.4M24.60 168.28h2.1M231.00 168.28h-2.1" stroke="#555555" stroke-width="1.0" fill="none"/>
<text class="tk" transform="translate(33.98,294.00) scale(1,1.08)" font-size="7.8px" text-anchor="middle">-7</text>
<text class="tk" transform="translate(52.75,294.00) scale(1,1.08)" font-size="7.8px" text-anchor="middle">-6</text>
<text class="tk" transform="translate(71.51,294.00) scale(1,1.08)" font-size="7.8px" text-anchor="middle">-5</text>
<text class="tk" transform="translate(90.27,294.00) scale(1,1.08)" font-size="7.8px" text-anchor="middle">-4</text>
<text class="tk" transform="translate(109.04,294.00) scale(1,1.08)" font-size="7.8px" text-anchor="middle">-3</text>
<text class="tk" transform="translate(127.80,294.00) scale(1,1.08)" font-size="7.8px" text-anchor="middle">-2</text>
<text class="tk" transform="translate(146.56,294.00) scale(1,1.08)" font-size="7.8px" text-anchor="middle">-1</text>
<text class="tk" transform="translate(165.33,294.00) scale(1,1.08)" font-size="7.8px" text-anchor="middle">0</text>
<text class="tk" transform="translate(184.09,294.00) scale(1,1.08)" font-size="7.8px" text-anchor="middle">1</text>
<text class="tk" transform="translate(202.85,294.00) scale(1,1.08)" font-size="7.8px" text-anchor="middle">2</text>
<text class="tk" transform="translate(221.62,294.00) scale(1,1.08)" font-size="7.8px" text-anchor="middle">3</text>
<text class="tk" transform="translate(21.60,287.00) scale(1,1.08)" font-size="7.8px" text-anchor="end">0</text>
<text class="tk" transform="translate(21.60,261.24) scale(1,1.08)" font-size="7.8px" text-anchor="end">5</text>
<text class="tk" transform="translate(21.60,235.48) scale(1,1.08)" font-size="7.8px" text-anchor="end">10</text>
<text class="tk" transform="translate(21.60,209.72) scale(1,1.08)" font-size="7.8px" text-anchor="end">15</text>
<text class="tk" transform="translate(21.60,183.96) scale(1,1.08)" font-size="7.8px" text-anchor="end">20</text>
<rect x="253.50" y="14.30" width="204.10" height="118.10" fill="none" stroke="#555555" stroke-width="1.0"/>
<path d="M287.52 132.40v-3.4M287.52 14.30v3.4M321.53 132.40v-2.1M321.53 14.30v2.1M355.55 132.40v-3.4M355.55 14.30v3.4M389.57 132.40v-2.1M389.57 14.30v2.1M423.58 132.40v-3.4M423.58 14.30v3.4M253.50 108.78h2.1M457.60 108.78h-2.1M253.50 85.16h3.4M457.60 85.16h-3.4M253.50 61.54h2.1M457.60 61.54h-2.1M253.50 37.92h3.4M457.60 37.92h-3.4" stroke="#555555" stroke-width="1.0" fill="none"/>
<text class="tk" transform="translate(287.52,142.20) scale(1,1.08)" font-size="7.8px" text-anchor="middle">-1</text>
<text class="tk" transform="translate(355.55,142.20) scale(1,1.08)" font-size="7.8px" text-anchor="middle">0</text>
<text class="tk" transform="translate(423.58,142.20) scale(1,1.08)" font-size="7.8px" text-anchor="middle">1</text>
<text class="tk" transform="translate(250.50,135.20) scale(1,1.08)" font-size="7.8px" text-anchor="end">0,0</text>
<text class="tk" transform="translate(250.50,87.96) scale(1,1.08)" font-size="7.8px" text-anchor="end">0,2</text>
<text class="tk" transform="translate(250.50,40.72) scale(1,1.08)" font-size="7.8px" text-anchor="end">0,4</text>
<rect x="253.60" y="165.70" width="203.80" height="118.50" fill="none" stroke="#555555" stroke-width="1.0"/>
<path d="M287.57 284.20v-3.4M287.57 165.70v3.4M321.53 284.20v-2.1M321.53 165.70v2.1M355.50 284.20v-3.4M355.50 165.70v3.4M389.47 284.20v-2.1M389.47 165.70v2.1M423.43 284.20v-3.4M423.43 165.70v3.4M253.60 273.85h2.1M457.40 273.85h-2.1M253.60 263.50h3.4M457.40 263.50h-3.4M253.60 253.15h2.1M457.40 253.15h-2.1M253.60 242.80h3.4M457.40 242.80h-3.4M253.60 232.45h2.1M457.40 232.45h-2.1M253.60 222.10h3.4M457.40 222.10h-3.4M253.60 211.75h2.1M457.40 211.75h-2.1M253.60 201.41h3.4M457.40 201.41h-3.4M253.60 191.06h2.1M457.40 191.06h-2.1M253.60 180.71h3.4M457.40 180.71h-3.4M253.60 170.36h2.1M457.40 170.36h-2.1" stroke="#555555" stroke-width="1.0" fill="none"/>
<text class="tk" transform="translate(287.57,294.00) scale(1,1.08)" font-size="7.8px" text-anchor="middle">-1</text>
<text class="tk" transform="translate(355.50,294.00) scale(1,1.08)" font-size="7.8px" text-anchor="middle">0</text>
<text class="tk" transform="translate(423.43,294.00) scale(1,1.08)" font-size="7.8px" text-anchor="middle">1</text>
<text class="tk" transform="translate(250.60,287.00) scale(1,1.08)" font-size="7.8px" text-anchor="end">0,0</text>
<text class="tk" transform="translate(250.60,266.30) scale(1,1.08)" font-size="7.8px" text-anchor="end">0,2</text>
<text class="tk" transform="translate(250.60,245.60) scale(1,1.08)" font-size="7.8px" text-anchor="end">0,4</text>
<text class="tk" transform="translate(250.60,224.90) scale(1,1.08)" font-size="7.8px" text-anchor="end">0,6</text>
<text class="tk" transform="translate(250.60,204.21) scale(1,1.08)" font-size="7.8px" text-anchor="end">0,8</text>
<text class="tk" transform="translate(250.60,183.51) scale(1,1.08)" font-size="7.8px" text-anchor="end">1,0</text>
<rect x="480.50" y="14.40" width="203.90" height="117.20" fill="none" stroke="#555555" stroke-width="1.0"/>
<path d="M496.81 131.60v-2.1M496.81 14.40v2.1M513.94 131.60v-3.4M513.94 14.40v3.4M531.06 131.60v-2.1M531.06 14.40v2.1M548.19 131.60v-3.4M548.19 14.40v3.4M565.32 131.60v-2.1M565.32 14.40v2.1M582.45 131.60v-3.4M582.45 14.40v3.4M599.58 131.60v-2.1M599.58 14.40v2.1M616.71 131.60v-3.4M616.71 14.40v3.4M633.84 131.60v-2.1M633.84 14.40v2.1M650.96 131.60v-3.4M650.96 14.40v3.4M668.09 131.60v-2.1M668.09 14.40v2.1M480.50 108.16h2.1M684.40 108.16h-2.1M480.50 84.72h3.4M684.40 84.72h-3.4M480.50 61.28h2.1M684.40 61.28h-2.1M480.50 37.84h3.4M684.40 37.84h-3.4" stroke="#555555" stroke-width="1.0" fill="none"/>
<text class="tk" transform="translate(513.94,141.40) scale(1,1.08)" font-size="7.8px" text-anchor="middle">-1,0</text>
<text class="tk" transform="translate(548.19,141.40) scale(1,1.08)" font-size="7.8px" text-anchor="middle">-0,5</text>
<text class="tk" transform="translate(582.45,141.40) scale(1,1.08)" font-size="7.8px" text-anchor="middle">0,0</text>
<text class="tk" transform="translate(616.71,141.40) scale(1,1.08)" font-size="7.8px" text-anchor="middle">0,5</text>
<text class="tk" transform="translate(650.96,141.40) scale(1,1.08)" font-size="7.8px" text-anchor="middle">1,0</text>
<text class="tk" transform="translate(477.50,134.40) scale(1,1.08)" font-size="7.8px" text-anchor="end">0,0</text>
<text class="tk" transform="translate(477.50,87.52) scale(1,1.08)" font-size="7.8px" text-anchor="end">0,2</text>
<text class="tk" transform="translate(477.50,40.64) scale(1,1.08)" font-size="7.8px" text-anchor="end">0,4</text>
<rect x="480.50" y="165.80" width="203.90" height="117.10" fill="none" stroke="#555555" stroke-width="1.0"/>
<path d="M496.81 282.90v-2.1M496.81 165.80v2.1M513.94 282.90v-3.4M513.94 165.80v3.4M531.06 282.90v-2.1M531.06 165.80v2.1M548.19 282.90v-3.4M548.19 165.80v3.4M565.32 282.90v-2.1M565.32 165.80v2.1M582.45 282.90v-3.4M582.45 165.80v3.4M599.58 282.90v-2.1M599.58 165.80v2.1M616.71 282.90v-3.4M616.71 165.80v3.4M633.84 282.90v-2.1M633.84 165.80v2.1M650.96 282.90v-3.4M650.96 165.80v3.4M668.09 282.90v-2.1M668.09 165.80v2.1M480.50 272.60h2.1M684.40 272.60h-2.1M480.50 262.30h3.4M684.40 262.30h-3.4M480.50 252.00h2.1M684.40 252.00h-2.1M480.50 241.70h3.4M684.40 241.70h-3.4M480.50 231.40h2.1M684.40 231.40h-2.1M480.50 221.11h3.4M684.40 221.11h-3.4M480.50 210.81h2.1M684.40 210.81h-2.1M480.50 200.51h3.4M684.40 200.51h-3.4M480.50 190.21h2.1M684.40 190.21h-2.1M480.50 179.91h3.4M684.40 179.91h-3.4M480.50 169.61h2.1M684.40 169.61h-2.1" stroke="#555555" stroke-width="1.0" fill="none"/>
<text class="tk" transform="translate(513.94,292.70) scale(1,1.08)" font-size="7.8px" text-anchor="middle">-1,0</text>
<text class="tk" transform="translate(548.19,292.70) scale(1,1.08)" font-size="7.8px" text-anchor="middle">-0,5</text>
<text class="tk" transform="translate(582.45,292.70) scale(1,1.08)" font-size="7.8px" text-anchor="middle">0,0</text>
<text class="tk" transform="translate(616.71,292.70) scale(1,1.08)" font-size="7.8px" text-anchor="middle">0,5</text>
<text class="tk" transform="translate(650.96,292.70) scale(1,1.08)" font-size="7.8px" text-anchor="middle">1,0</text>
<text class="tk" transform="translate(477.50,285.70) scale(1,1.08)" font-size="7.8px" text-anchor="end">0,0</text>
<text class="tk" transform="translate(477.50,265.10) scale(1,1.08)" font-size="7.8px" text-anchor="end">0,2</text>
<text class="tk" transform="translate(477.50,244.50) scale(1,1.08)" font-size="7.8px" text-anchor="end">0,4</text>
<text class="tk" transform="translate(477.50,223.91) scale(1,1.08)" font-size="7.8px" text-anchor="end">0,6</text>
<text class="tk" transform="translate(477.50,203.31) scale(1,1.08)" font-size="7.8px" text-anchor="end">0,8</text>
<text class="tk" transform="translate(477.50,182.71) scale(1,1.08)" font-size="7.8px" text-anchor="end">1,0</text>
<rect x="158.50" y="20.70" width="68.10" height="40.50" fill="#fff" stroke="none"/>
<polyline points="158.5,61.0 226.6,61.0" fill="none" stroke="#f0c47a" stroke-width="0.9" stroke-linejoin="round" stroke-linecap="round"/>
<path d="M158.50 59.40C163.54 59.43 179.10 59.54 190.00 59.60C200.90 59.66 220.74 59.77 226.60 59.80" fill="none" stroke="#8a9af8" stroke-width="0.8" stroke-linejoin="round" stroke-linecap="round"/>
<path d="M158.50 58.40C161.46 58.40 170.36 58.37 177.00 58.40C183.64 58.43 192.06 58.52 200.00 58.60C207.94 58.68 222.34 58.85 226.60 58.90" fill="none" stroke="#5a6af0" stroke-width="0.9" stroke-linejoin="round" stroke-linecap="round"/>
<path d="M158.50 55.50C160.69 55.42 168.76 54.92 172.20 55.00C175.64 55.08 177.68 55.92 180.00 56.00C182.32 56.08 183.50 55.50 186.70 55.50C189.90 55.50 195.47 55.89 200.00 56.00C204.53 56.11 210.74 56.15 215.00 56.20C219.26 56.25 224.74 56.28 226.60 56.30" fill="none" stroke="#38f4ff" stroke-width="0.9" stroke-linejoin="round" stroke-linecap="round"/>
<path d="M158.50 56.50C159.92 56.18 164.74 55.04 167.40 54.50C170.06 53.96 173.24 53.79 175.10 53.10C176.96 52.41 177.91 51.37 179.00 50.20C180.09 49.03 180.81 47.13 181.90 45.80C182.99 44.47 184.26 42.94 185.80 41.90C187.34 40.86 189.87 40.15 191.50 39.30C193.13 38.45 194.54 37.46 196.00 36.60C197.46 35.74 199.14 34.68 200.60 33.90C202.06 33.12 203.66 32.28 205.10 31.70C206.54 31.12 208.30 31.16 209.60 30.30C210.90 29.44 212.05 26.89 213.20 26.30C214.35 25.71 215.79 26.31 216.80 26.60C217.81 26.89 218.64 28.44 219.50 28.10C220.36 27.76 221.18 25.46 222.20 24.50C223.22 23.54 225.31 22.48 225.90 22.10" fill="none" stroke="#111111" stroke-width="0.9" stroke-linejoin="round" stroke-linecap="round"/>
<path d="M158.50 54.30C159.14 53.87 161.08 52.42 162.50 51.60C163.92 50.78 165.38 49.97 167.40 49.20C169.42 48.43 172.94 47.65 175.10 46.80C177.26 45.95 179.51 44.83 180.90 43.90C182.29 42.97 182.97 41.98 183.80 41.00C184.63 40.02 185.44 38.60 186.10 37.80C186.76 37.00 187.37 36.40 187.90 36.00C188.43 35.60 188.97 35.06 189.40 35.30C189.83 35.54 190.12 36.86 190.60 37.50C191.08 38.14 191.82 39.16 192.40 39.30C192.98 39.44 193.62 38.69 194.20 38.40C194.78 38.11 195.50 37.88 196.00 37.50C196.50 37.12 196.85 35.78 197.30 36.00C197.75 36.22 198.13 38.15 198.80 38.90C199.47 39.65 200.06 40.35 201.50 40.70C202.94 41.05 206.22 40.89 207.80 41.10C209.38 41.31 209.67 42.00 211.40 42.00C213.13 42.00 216.87 41.31 218.60 41.10C220.33 40.89 220.92 40.64 222.20 40.70C223.48 40.76 225.90 41.37 226.60 41.50" fill="none" stroke="#d83cf8" stroke-width="0.9" stroke-linejoin="round" stroke-linecap="round"/>
<path d="M158.50 44.40C159.14 44.00 161.46 42.68 162.50 41.90C163.54 41.12 164.12 40.44 165.00 39.50C165.88 38.56 166.93 36.90 168.00 36.00C169.07 35.10 170.53 34.38 171.70 33.90C172.87 33.42 174.15 33.58 175.30 33.00C176.45 32.42 177.75 31.32 178.90 30.30C180.05 29.28 181.49 27.77 182.50 26.60C183.51 25.43 184.34 23.86 185.20 23.00C186.06 22.14 187.18 21.57 187.90 21.20C188.62 20.83 189.12 20.70 189.70 20.70C190.28 20.70 190.92 20.83 191.50 21.20C192.08 21.57 192.58 22.86 193.30 23.00C194.02 23.14 194.98 22.44 196.00 22.10C197.02 21.76 198.90 21.12 199.70 20.90C200.50 20.68 200.79 20.73 201.00 20.70" fill="none" stroke="#f52020" stroke-width="0.9" stroke-linejoin="round" stroke-linecap="round"/>
<line x1="192.55" y1="20.70" x2="192.55" y2="61.20" stroke="#555" stroke-width="0.6" stroke-dasharray="1.2,0.9"/>
<rect x="158.50" y="20.70" width="68.10" height="40.50" fill="none" stroke="#666" stroke-width="0.7"/>
<path d="M165.31 61.20v-1.6M165.31 20.70v1.6M172.12 61.20v-1.0M172.12 20.70v1.0M178.93 61.20v-1.6M178.93 20.70v1.6M185.74 61.20v-1.0M185.74 20.70v1.0M192.55 61.20v-1.6M192.55 20.70v1.6M199.36 61.20v-1.0M199.36 20.70v1.0M206.17 61.20v-1.6M206.17 20.70v1.6M212.98 61.20v-1.0M212.98 20.70v1.0M219.79 61.20v-1.6M219.79 20.70v1.6M158.50 56.70h1.0M226.60 56.70h-1.0M158.50 52.20h1.6M226.60 52.20h-1.6M158.50 47.70h1.0M226.60 47.70h-1.0M158.50 43.20h1.6M226.60 43.20h-1.6M158.50 38.70h1.0M226.60 38.70h-1.0M158.50 34.20h1.6M226.60 34.20h-1.6M158.50 29.70h1.0M226.60 29.70h-1.0M158.50 25.20h1.6M226.60 25.20h-1.6" stroke="#555" stroke-width="0.6" fill="none"/>
<text transform="translate(165.31,65.88) scale(0.5,0.54)" font-size="7.20px" class="tki" text-anchor="middle">-0,2</text>
<text transform="translate(178.93,65.88) scale(0.5,0.54)" font-size="7.20px" class="tki" text-anchor="middle">-0,1</text>
<text transform="translate(192.55,65.88) scale(0.5,0.54)" font-size="7.20px" class="tki" text-anchor="middle">0,0</text>
<text transform="translate(206.17,65.88) scale(0.5,0.54)" font-size="7.20px" class="tki" text-anchor="middle">0,1</text>
<text transform="translate(219.79,65.88) scale(0.5,0.54)" font-size="7.20px" class="tki" text-anchor="middle">0,2</text>
<text transform="translate(157.40,62.57) scale(0.5,0.54)" font-size="7.20px" class="tki" text-anchor="end">0,00</text>
<text transform="translate(157.40,53.57) scale(0.5,0.54)" font-size="7.20px" class="tki" text-anchor="end">0,01</text>
<text transform="translate(157.40,44.57) scale(0.5,0.54)" font-size="7.20px" class="tki" text-anchor="end">0,02</text>
<text transform="translate(157.40,35.57) scale(0.5,0.54)" font-size="7.20px" class="tki" text-anchor="end">0,03</text>
<text transform="translate(157.40,26.57) scale(0.5,0.54)" font-size="7.20px" class="tki" text-anchor="end">0,04</text>
<rect x="114.70" y="174.50" width="101.70" height="59.10" fill="#fff" stroke="none"/>
<path d="M114.70 230.90C117.04 230.90 126.23 231.19 129.30 230.90C132.37 230.61 132.73 229.63 133.90 229.10C135.07 228.57 135.82 227.60 136.60 227.60C137.38 227.60 137.79 228.38 138.80 229.10C139.81 229.82 141.89 231.40 142.90 232.10C143.91 232.80 142.90 233.32 145.10 233.50C148.67 233.68 158.19 233.54 165.20 233.20C172.21 232.86 182.58 231.94 188.90 231.40C195.22 230.86 201.45 230.23 204.70 229.80C207.95 229.37 208.13 228.96 209.20 228.70C210.27 228.44 210.62 228.14 211.40 228.20C212.18 228.26 213.30 229.20 214.10 229.10C214.90 229.00 216.03 227.84 216.40 227.60" fill="none" stroke="#7d8ff0" stroke-width="1.0" stroke-linejoin="round" stroke-linecap="round"/>
<path d="M114.70 229.80C116.68 229.72 124.40 229.65 127.10 229.30C129.80 228.95 130.50 228.37 131.60 227.60C132.70 226.83 133.22 225.59 134.00 224.50C134.78 223.41 135.78 221.60 136.50 220.80C137.22 220.00 137.86 219.47 138.50 219.50C139.14 219.53 139.86 219.96 140.50 221.00C141.14 222.04 141.86 224.37 142.50 226.00C143.14 227.63 143.86 230.05 144.50 231.20C145.14 232.35 144.82 232.94 146.50 233.20C148.18 233.46 152.01 233.09 155.00 232.80C157.99 232.51 161.58 231.88 165.20 231.40C168.82 230.92 173.81 230.31 177.60 229.80C181.39 229.29 185.30 228.74 188.90 228.20C192.50 227.66 196.85 227.04 200.10 226.40C203.35 225.76 206.59 225.10 209.20 224.20C211.81 223.30 215.25 221.34 216.40 220.80" fill="none" stroke="#8ff0ff" stroke-width="1.0" stroke-linejoin="round" stroke-linecap="round"/>
<path d="M114.70 225.30C115.60 224.84 118.32 223.66 120.30 222.40C122.28 221.14 125.47 219.10 127.10 217.40C128.73 215.70 129.60 213.96 130.50 211.80C131.40 209.64 131.98 206.08 132.70 203.90C133.42 201.72 134.28 198.57 135.00 198.20C135.72 197.83 136.30 199.97 137.20 201.60C138.10 203.23 139.51 206.42 140.60 208.40C141.69 210.38 143.09 212.38 144.00 214.00C144.91 215.62 145.58 216.69 146.30 218.50C147.02 220.31 147.78 223.49 148.50 225.30C149.22 227.11 149.89 228.97 150.80 229.80C151.71 230.63 153.16 230.68 154.20 230.50C155.24 230.32 156.45 229.71 157.30 228.70C158.15 227.69 158.78 226.38 159.50 224.20C160.22 222.02 161.08 218.00 161.80 215.10C162.52 212.20 163.28 208.37 164.00 206.10C164.72 203.83 165.72 201.68 166.30 200.90C166.88 200.12 167.20 201.62 167.60 201.20C168.00 200.78 168.40 198.76 168.80 198.30C169.20 197.84 169.70 198.64 170.10 198.30C170.50 197.96 170.90 196.58 171.30 196.20C171.70 195.82 172.20 196.35 172.60 195.90C173.00 195.45 173.40 193.74 173.80 193.40C174.20 193.06 174.70 194.17 175.10 193.80C175.50 193.43 175.90 191.48 176.30 191.10C176.70 190.72 177.20 191.66 177.60 191.40C178.00 191.14 178.40 189.79 178.80 189.50C179.20 189.21 179.70 189.94 180.10 189.60C180.50 189.26 180.90 187.66 181.30 187.40C181.70 187.14 182.20 188.30 182.60 188.00C183.00 187.70 183.40 185.82 183.80 185.50C184.20 185.18 184.70 186.14 185.10 186.00C185.50 185.86 185.90 184.74 186.30 184.60C186.70 184.46 187.20 185.31 187.60 185.10C188.00 184.89 188.40 183.43 188.80 183.30C189.20 183.17 189.70 184.49 190.10 184.30C190.50 184.11 190.90 182.36 191.30 182.10C191.70 181.84 192.20 182.86 192.60 182.70C193.00 182.54 193.40 181.31 193.80 181.10C194.20 180.89 194.70 181.64 195.10 181.40C195.50 181.16 195.90 179.73 196.30 179.60C196.70 179.47 197.34 180.62 197.60 180.60C197.86 180.58 197.60 178.30 197.90 179.50C198.30 180.70 199.38 184.93 200.10 188.10C200.82 191.27 201.66 196.05 202.40 199.30C203.14 202.55 204.04 206.40 204.70 208.40C205.36 210.40 205.97 212.52 206.50 211.80C207.03 211.08 207.50 207.69 208.00 203.90C208.50 200.11 209.12 191.00 209.60 188.10C210.08 185.20 210.60 185.08 211.00 185.80C211.40 186.52 211.67 190.97 212.10 192.60C212.53 194.23 213.16 195.82 213.70 196.00C214.24 196.18 215.07 194.44 215.50 193.70C215.93 192.96 216.26 191.77 216.40 191.40" fill="none" stroke="#f52020" stroke-width="1.1" stroke-linejoin="round" stroke-linecap="round"/>
<path d="M114.70 223.00C115.96 222.65 119.90 221.41 122.60 220.80C125.30 220.19 128.72 219.66 131.60 219.20C134.48 218.74 138.44 218.19 140.60 217.90C142.76 217.61 143.84 217.19 145.10 217.40C146.36 217.61 147.24 218.19 148.50 219.20C149.76 220.21 151.74 222.26 153.00 223.70C154.26 225.14 155.36 227.77 156.40 228.20C157.44 228.63 158.46 227.76 159.50 226.40C160.54 225.04 161.99 221.68 162.90 219.70C163.81 217.72 164.66 215.63 165.20 214.00C165.74 212.37 165.77 210.33 166.30 209.50C166.83 208.67 167.41 208.80 168.50 208.80C169.59 208.80 171.84 208.84 173.10 209.50C174.36 210.16 175.33 211.64 176.40 212.90C177.47 214.16 178.54 216.39 179.80 217.40C181.06 218.41 182.12 218.83 184.30 219.20C186.48 219.57 190.50 219.56 193.40 219.70C196.30 219.84 200.24 219.67 202.40 220.10C204.56 220.53 205.81 221.74 206.90 222.40C207.99 223.06 208.48 224.20 209.20 224.20C209.92 224.20 210.62 222.48 211.40 222.40C212.18 222.32 213.30 223.84 214.10 223.70C214.90 223.56 216.03 221.85 216.40 221.50" fill="none" stroke="#1edc1e" stroke-width="1.1" stroke-linejoin="round" stroke-linecap="round"/>
<line x1="165.32" y1="174.50" x2="165.32" y2="233.60" stroke="#555" stroke-width="0.6" stroke-dasharray="1.2,0.9"/>
<rect x="114.70" y="174.50" width="101.70" height="59.10" fill="none" stroke="#666" stroke-width="0.7"/>
<path d="M118.88 233.60v-1.6M118.88 174.50v1.6M130.49 233.60v-1.0M130.49 174.50v1.0M142.10 233.60v-1.6M142.10 174.50v1.6M153.71 233.60v-1.0M153.71 174.50v1.0M165.32 233.60v-1.6M165.32 174.50v1.6M176.93 233.60v-1.0M176.93 174.50v1.0M188.54 233.60v-1.6M188.54 174.50v1.6M200.15 233.60v-1.0M200.15 174.50v1.0M211.76 233.60v-1.6M211.76 174.50v1.6M114.70 227.08h1.0M216.40 227.08h-1.0M114.70 220.55h1.6M216.40 220.55h-1.6M114.70 214.03h1.0M216.40 214.03h-1.0M114.70 207.51h1.6M216.40 207.51h-1.6M114.70 200.98h1.0M216.40 200.98h-1.0M114.70 194.46h1.6M216.40 194.46h-1.6M114.70 187.94h1.0M216.40 187.94h-1.0M114.70 181.41h1.6M216.40 181.41h-1.6" stroke="#555" stroke-width="0.6" fill="none"/>
<text transform="translate(118.88,240.75) scale(0.5,0.54)" font-size="11.00px" class="tki" text-anchor="middle">-2</text>
<text transform="translate(142.10,240.75) scale(0.5,0.54)" font-size="11.00px" class="tki" text-anchor="middle">-1</text>
<text transform="translate(165.32,240.75) scale(0.5,0.54)" font-size="11.00px" class="tki" text-anchor="middle">0</text>
<text transform="translate(188.54,240.75) scale(0.5,0.54)" font-size="11.00px" class="tki" text-anchor="middle">1</text>
<text transform="translate(211.76,240.75) scale(0.5,0.54)" font-size="11.00px" class="tki" text-anchor="middle">2</text>
<text transform="translate(113.60,235.69) scale(0.5,0.54)" font-size="11.00px" class="tki" text-anchor="end">0,0</text>
<text transform="translate(113.60,222.64) scale(0.5,0.54)" font-size="11.00px" class="tki" text-anchor="end">0,5</text>
<text transform="translate(113.60,209.60) scale(0.5,0.54)" font-size="11.00px" class="tki" text-anchor="end">1,0</text>
<text transform="translate(113.60,196.55) scale(0.5,0.54)" font-size="11.00px" class="tki" text-anchor="end">1,5</text>
<text transform="translate(113.60,183.50) scale(0.5,0.54)" font-size="11.00px" class="tki" text-anchor="end">2,0</text>
<rect x="490.30" y="19.40" width="71.20" height="40.90" fill="#fff" stroke="none"/>
<path d="M490.30 40.70C491.72 40.00 496.37 37.85 499.20 36.30C502.03 34.75 505.46 32.47 508.00 31.00C510.54 29.53 513.10 27.96 515.10 27.10C517.10 26.24 518.92 25.79 520.50 25.60C522.08 25.41 523.51 25.88 525.00 25.90C526.49 25.92 528.57 25.60 529.80 25.70C531.03 25.80 531.77 25.96 532.70 26.50C533.63 27.04 534.66 28.60 535.60 29.10C536.54 29.60 537.51 29.68 538.60 29.60C539.69 29.52 541.33 28.52 542.40 28.60C543.47 28.68 544.21 29.40 545.30 30.10C546.39 30.80 547.95 32.07 549.20 33.00C550.45 33.93 551.85 35.21 553.10 35.90C554.35 36.59 555.66 37.00 557.00 37.30C558.34 37.60 560.78 37.72 561.50 37.80" fill="none" stroke="#f52020" stroke-width="1.0" stroke-linejoin="round" stroke-linecap="round"/>
<path d="M490.30 54.40C491.72 54.05 496.64 53.26 499.20 52.20C501.76 51.14 504.03 49.64 506.30 47.80C508.57 45.96 511.13 42.97 513.40 40.70C515.67 38.43 518.64 35.38 520.50 33.60C522.36 31.82 523.51 30.48 525.00 29.60C526.49 28.72 528.33 28.48 529.80 28.10C531.27 27.72 532.79 28.13 534.20 27.20C535.61 26.27 537.59 22.92 538.60 22.30C539.61 21.68 539.73 22.60 540.50 23.30C541.27 24.00 542.31 26.24 543.40 26.70C544.49 27.16 546.45 26.06 547.30 26.20C548.15 26.34 548.09 27.06 548.70 27.60C549.31 28.14 550.40 28.59 551.10 29.60C551.80 30.61 552.32 32.81 553.10 33.90C553.88 34.99 555.15 36.08 556.00 36.40C556.85 36.72 557.52 35.44 558.40 35.90C559.28 36.36 561.00 38.76 561.50 39.30" fill="none" stroke="#38f4ff" stroke-width="1.0" stroke-linejoin="round" stroke-linecap="round"/>
<path d="M490.30 53.10C491.72 53.39 495.79 54.32 499.20 54.90C502.61 55.48 508.19 56.27 511.60 56.70C515.01 57.13 518.52 57.60 520.50 57.60C522.48 57.60 523.01 57.42 524.00 56.70C524.99 55.98 526.00 54.81 526.70 53.10C527.40 51.39 527.70 48.42 528.40 46.00C529.10 43.58 530.24 40.54 531.10 38.00C531.96 35.46 532.95 32.42 533.80 30.10C534.65 27.78 535.63 25.05 536.40 23.50C537.17 21.95 537.78 20.35 538.60 20.40C539.42 20.45 540.51 22.71 541.50 23.80C542.49 24.89 543.33 26.66 544.80 27.20C546.27 27.74 549.53 26.82 550.70 27.20C551.87 27.58 551.57 28.45 552.10 29.60C552.63 30.75 553.22 33.25 554.00 34.40C554.78 35.55 555.80 35.84 557.00 36.80C558.20 37.76 560.78 39.82 561.50 40.40" fill="none" stroke="#2222f8" stroke-width="1.0" stroke-linejoin="round" stroke-linecap="round"/>
<line x1="552.62" y1="19.40" x2="552.62" y2="60.30" stroke="#555" stroke-width="0.6"/>
<rect x="490.30" y="19.40" width="71.20" height="40.90" fill="none" stroke="#666" stroke-width="0.7"/>
<path d="M499.36 60.30v-1.6M499.36 19.40v1.6M508.23 60.30v-1.0M508.23 19.40v1.0M517.11 60.30v-1.6M517.11 19.40v1.6M525.99 60.30v-1.0M525.99 19.40v1.0M534.87 60.30v-1.6M534.87 19.40v1.6M543.74 60.30v-1.0M543.74 19.40v1.0M552.62 60.30v-1.6M552.62 19.40v1.6M490.30 52.12h1.0M561.50 52.12h-1.0M490.30 43.94h1.6M561.50 43.94h-1.6M490.30 35.76h1.0M561.50 35.76h-1.0M490.30 27.58h1.6M561.50 27.58h-1.6" stroke="#555" stroke-width="0.6" fill="none"/>
<text transform="translate(499.36,64.85) scale(0.5,0.54)" font-size="7.00px" class="tki" text-anchor="middle">-0,3</text>
<text transform="translate(517.11,64.85) scale(0.5,0.54)" font-size="7.00px" class="tki" text-anchor="middle">-0,2</text>
<text transform="translate(534.87,64.85) scale(0.5,0.54)" font-size="7.00px" class="tki" text-anchor="middle">-0,1</text>
<text transform="translate(552.62,64.85) scale(0.5,0.54)" font-size="7.00px" class="tki" text-anchor="middle">0,0</text>
<text transform="translate(489.20,61.63) scale(0.5,0.54)" font-size="7.00px" class="tki" text-anchor="end">0,0</text>
<text transform="translate(489.20,45.27) scale(0.5,0.54)" font-size="7.00px" class="tki" text-anchor="end">0,2</text>
<text transform="translate(489.20,28.91) scale(0.5,0.54)" font-size="7.00px" class="tki" text-anchor="end">0,4</text>
<rect x="490.50" y="170.00" width="71.10" height="41.50" fill="#fff" stroke="none"/>
<path d="M490.50 194.70C491.01 194.54 492.16 194.04 493.70 193.70C495.24 193.36 497.78 192.95 500.10 192.60C502.42 192.25 505.61 191.93 508.20 191.50C510.79 191.07 513.72 190.49 516.30 189.90C518.88 189.31 521.72 188.39 524.30 187.80C526.88 187.21 530.59 186.79 532.40 186.20C534.21 185.61 534.70 184.63 535.60 184.10C536.50 183.57 537.22 183.01 538.00 182.90C538.78 182.79 539.72 183.14 540.50 183.40C541.28 183.66 542.00 184.32 542.90 184.50C543.80 184.68 545.08 184.76 546.10 184.50C547.12 184.24 548.28 183.41 549.30 182.90C550.32 182.39 551.46 181.94 552.50 181.30C553.54 180.66 554.89 179.54 555.80 178.90C556.71 178.26 557.43 177.56 558.20 177.30C558.97 177.04 560.06 177.22 560.60 177.30C561.14 177.38 561.44 177.72 561.60 177.80" fill="none" stroke="#f52020" stroke-width="1.0" stroke-linejoin="round" stroke-linecap="round"/>
<path d="M490.50 205.00C491.52 205.00 494.84 205.26 496.90 205.00C498.96 204.74 501.59 204.09 503.40 203.40C505.21 202.71 506.66 201.64 508.20 200.70C509.74 199.76 511.19 198.35 513.00 197.50C514.81 196.65 517.44 196.06 519.50 195.40C521.56 194.74 523.84 193.98 525.90 193.40C527.96 192.82 530.59 192.31 532.40 191.80C534.21 191.29 535.78 190.97 537.20 190.20C538.62 189.43 540.13 188.04 541.30 187.00C542.47 185.96 543.73 183.83 544.50 183.70C545.27 183.57 545.46 185.67 546.10 186.20C546.74 186.73 547.60 187.27 548.50 187.00C549.40 186.73 550.66 185.41 551.70 184.50C552.74 183.59 554.09 182.24 555.00 181.30C555.91 180.36 556.63 178.86 557.40 178.60C558.17 178.34 559.13 179.60 559.80 179.70C560.47 179.80 561.31 179.28 561.60 179.20" fill="none" stroke="#38f4ff" stroke-width="1.0" stroke-linejoin="round" stroke-linecap="round"/>
<path d="M490.50 199.10C491.52 199.44 494.58 200.35 496.90 201.20C499.22 202.05 502.42 203.46 505.00 204.40C507.58 205.34 510.42 206.41 513.00 207.10C515.58 207.79 519.04 208.51 521.10 208.70C523.16 208.89 524.73 208.94 525.90 208.30C527.07 207.66 527.62 206.17 528.40 204.70C529.18 203.23 529.90 200.40 530.80 199.10C531.70 197.80 532.98 197.26 534.00 196.60C535.02 195.94 536.16 195.77 537.20 195.00C538.24 194.23 539.20 192.62 540.50 191.80C541.80 190.98 543.76 190.54 545.30 189.90C546.84 189.26 548.80 188.66 550.10 187.80C551.40 186.94 552.36 185.41 553.40 184.50C554.44 183.59 555.70 182.61 556.60 182.10C557.50 181.59 558.20 181.60 559.00 181.30C559.80 181.00 561.18 180.38 561.60 180.20" fill="none" stroke="#2222f8" stroke-width="1.0" stroke-linejoin="round" stroke-linecap="round"/>
<line x1="552.45" y1="170.00" x2="552.45" y2="211.50" stroke="#555" stroke-width="0.6"/>
<rect x="490.50" y="170.00" width="71.10" height="41.50" fill="none" stroke="#666" stroke-width="0.7"/>
<path d="M499.65 211.50v-1.6M499.65 170.00v1.6M508.45 211.50v-1.0M508.45 170.00v1.0M517.25 211.50v-1.6M517.25 170.00v1.6M526.05 211.50v-1.0M526.05 170.00v1.0M534.85 211.50v-1.6M534.85 170.00v1.6M543.65 211.50v-1.0M543.65 170.00v1.0M552.45 211.50v-1.6M552.45 170.00v1.6M490.50 207.95h1.0M561.60 207.95h-1.0M490.50 204.41h1.6M561.60 204.41h-1.6M490.50 200.86h1.0M561.60 200.86h-1.0M490.50 197.31h1.6M561.60 197.31h-1.6M490.50 193.76h1.0M561.60 193.76h-1.0M490.50 190.22h1.6M561.60 190.22h-1.6M490.50 186.67h1.0M561.60 186.67h-1.0M490.50 183.12h1.6M561.60 183.12h-1.6M490.50 179.58h1.0M561.60 179.58h-1.0M490.50 176.03h1.6M561.60 176.03h-1.6M490.50 172.48h1.0M561.60 172.48h-1.0" stroke="#555" stroke-width="0.6" fill="none"/>
<text transform="translate(499.65,216.05) scale(0.5,0.54)" font-size="7.00px" class="tki" text-anchor="middle">-0,3</text>
<text transform="translate(517.25,216.05) scale(0.5,0.54)" font-size="7.00px" class="tki" text-anchor="middle">-0,2</text>
<text transform="translate(534.85,216.05) scale(0.5,0.54)" font-size="7.00px" class="tki" text-anchor="middle">-0,1</text>
<text transform="translate(552.45,216.05) scale(0.5,0.54)" font-size="7.00px" class="tki" text-anchor="middle">0,0</text>
<text transform="translate(489.40,212.83) scale(0.5,0.54)" font-size="7.00px" class="tki" text-anchor="end">0,0</text>
<text transform="translate(489.40,205.74) scale(0.5,0.54)" font-size="7.00px" class="tki" text-anchor="end">0,2</text>
<text transform="translate(489.40,198.64) scale(0.5,0.54)" font-size="7.00px" class="tki" text-anchor="end">0,4</text>
<text transform="translate(489.40,191.55) scale(0.5,0.54)" font-size="7.00px" class="tki" text-anchor="end">0,6</text>
<text transform="translate(489.40,184.45) scale(0.5,0.54)" font-size="7.00px" class="tki" text-anchor="end">0,8</text>
<text transform="translate(489.40,177.36) scale(0.5,0.54)" font-size="7.00px" class="tki" text-anchor="end">1,0</text>
<line x1="30.1" y1="23" x2="50" y2="23" stroke="#1edc1e" stroke-width="1.7"/>
<text class="lg" transform="translate(51.80,25.90) scale(1,1.0)" font-size="7.5px" letter-spacing="0.3">x<tspan dy="-3.4" font-size="5.2px">2</tspan><tspan dy="3.4">-y</tspan><tspan dy="-3.4" font-size="5.2px">2</tspan></text>
<line x1="30.1" y1="35" x2="50" y2="35" stroke="#f52020" stroke-width="1.7"/>
<text class="lg" transform="translate(51.80,37.90) scale(1,1.0)" font-size="7.5px" letter-spacing="0.3">z<tspan dy="-3.4" font-size="5.2px">2</tspan></text>
<line x1="30.1" y1="45.3" x2="50" y2="45.3" stroke="#38f4ff" stroke-width="1.0"/>
<text class="lg" transform="translate(51.80,48.20) scale(1,1.0)" font-size="7.5px" letter-spacing="0.3">xz, yz</text>
<line x1="30.1" y1="57.3" x2="50" y2="57.3" stroke="#5a6af0" stroke-width="1.0"/>
<text class="lg" transform="translate(51.80,60.20) scale(1,1.0)" font-size="7.5px" letter-spacing="0.3">xy</text>
<line x1="179.3" y1="78.1" x2="198.9" y2="78.1" stroke="#d83cf8" stroke-width="1.0"/>
<text class="lgs" transform="translate(200.30,81.20) scale(1,1.05)" font-size="8.7px" stroke-width="0.2">O</text>
<text class="lgs" transform="translate(212.30,81.20) scale(1,1.05)" font-size="8.7px" stroke-width="0.2">p</text>
<line x1="179.3" y1="88.3" x2="198.9" y2="88.3" stroke="#f0c47a" stroke-width="1.0"/>
<text class="lgs" transform="translate(200.30,91.40) scale(1,1.05)" font-size="8.7px" stroke-width="0.2">La</text>
<text class="lgs" transform="translate(212.30,91.40) scale(1,1.05)" font-size="8.7px" stroke-width="0.2">p</text>
<line x1="179.3" y1="98.8" x2="198.9" y2="98.8" stroke="#333" stroke-width="1.5"/>
<text class="lgs" transform="translate(200.30,101.90) scale(1,1.05)" font-size="8.7px" stroke-width="0.2">La</text>
<text class="lgs" transform="translate(212.30,101.90) scale(1,1.05)" font-size="8.7px" stroke-width="0.2">d</text>
<line x1="395.9" y1="31.2" x2="415.1" y2="31.2" stroke="#111111" stroke-width="1.2"/>
<text class="lgs" transform="translate(441.30,34.20) scale(1,1.08)" font-size="8.7px" text-anchor="end">150K</text>
<line x1="395.9" y1="41.4" x2="415.1" y2="41.4" stroke="#f52020" stroke-width="1.2"/>
<text class="lgs" transform="translate(441.30,44.40) scale(1,1.08)" font-size="8.7px" text-anchor="end">500K</text>
<line x1="395.9" y1="51.599999999999994" x2="415.1" y2="51.599999999999994" stroke="#1edc1e" stroke-width="1.2"/>
<text class="lgs" transform="translate(441.30,54.60) scale(1,1.08)" font-size="8.7px" text-anchor="end">1000K</text>
<line x1="395.9" y1="61.8" x2="415.1" y2="61.8" stroke="#2222f8" stroke-width="1.2"/>
<text class="lgs" transform="translate(441.30,64.80) scale(1,1.08)" font-size="8.7px" text-anchor="end">2000K</text>
<line x1="395.9" y1="72.0" x2="415.1" y2="72.0" stroke="#38f4ff" stroke-width="1.2"/>
<text class="lgs" transform="translate(441.30,75.00) scale(1,1.08)" font-size="8.7px" text-anchor="end">2500K</text>
<line x1="395.9" y1="82.2" x2="415.1" y2="82.2" stroke="#f020f0" stroke-width="1.2"/>
<text class="lgs" transform="translate(441.30,85.20) scale(1,1.08)" font-size="8.7px" text-anchor="end">3700K</text>
<text class="lg" transform="translate(265.70,39.60) scale(1,1.0)" font-size="7.5px" letter-spacing="0.3">x<tspan dy="-3.4" font-size="5.2px">2</tspan><tspan dy="3.4">-y</tspan><tspan dy="-3.4" font-size="5.2px">2</tspan></text>
<line x1="636.9" y1="22.4" x2="656.3" y2="22.4" stroke="#f52020" stroke-width="1.3"/>
<text class="lgs" transform="translate(658.40,25.60) scale(1,1.08)" font-size="8.6px" letter-spacing="0.4">5 eV</text>
<line x1="636.9" y1="32.7" x2="656.3" y2="32.7" stroke="#38f4ff" stroke-width="1.3"/>
<text class="lgs" transform="translate(658.40,35.90) scale(1,1.08)" font-size="8.6px" letter-spacing="0.4">7 eV</text>
<line x1="636.9" y1="43.0" x2="656.3" y2="43.0" stroke="#2222f8" stroke-width="1.3"/>
<text class="lgs" transform="translate(658.40,46.20) scale(1,1.08)" font-size="8.6px" letter-spacing="0.4">9 eV</text>
<text class="lg" transform="translate(591.30,117.60) scale(1,1.0)" font-size="7.5px" letter-spacing="0.3">x<tspan dy="-3.4" font-size="5.2px">2</tspan><tspan dy="3.4">-y</tspan><tspan dy="-3.4" font-size="5.2px">2</tspan></text>
<line x1="34.7" y1="176.3" x2="53.6" y2="176.3" stroke="#1edc1e" stroke-width="1.7"/>
<text class="lg" transform="translate(56.00,179.10) scale(1,1.0)" font-size="7.5px" letter-spacing="0.3">x<tspan dy="-3.4" font-size="5.2px">2</tspan><tspan dy="3.4">-y</tspan><tspan dy="-3.4" font-size="5.2px">2</tspan></text>
<line x1="34.7" y1="189.8" x2="53.6" y2="189.8" stroke="#f52020" stroke-width="1.7"/>
<text class="lg" transform="translate(56.00,192.60) scale(1,1.0)" font-size="7.5px" letter-spacing="0.3">z<tspan dy="-3.4" font-size="5.2px">2</tspan></text>
<line x1="34.7" y1="200.2" x2="53.6" y2="200.2" stroke="#8ff0ff" stroke-width="1.2"/>
<text class="lg" transform="translate(56.00,203.00) scale(1,1.0)" font-size="7.5px" letter-spacing="0.3">xz, yz</text>
<line x1="34.7" y1="210.5" x2="53.6" y2="210.5" stroke="#7d8ff0" stroke-width="1.2"/>
<text class="lg" transform="translate(56.00,213.30) scale(1,1.0)" font-size="7.5px" letter-spacing="0.3">xy</text>
<line x1="356.9" y1="246.2" x2="376.8" y2="246.2" stroke="#111111" stroke-width="1.2"/>
<text class="lgs" transform="translate(402.40,249.20) scale(1,1.08)" font-size="8.7px" text-anchor="end">150K</text>
<line x1="356.9" y1="256.4" x2="376.8" y2="256.4" stroke="#f52020" stroke-width="1.2"/>
<text class="lgs" transform="translate(402.40,259.40) scale(1,1.08)" font-size="8.7px" text-anchor="end">500K</text>
<line x1="356.9" y1="266.59999999999997" x2="376.8" y2="266.59999999999997" stroke="#1edc1e" stroke-width="1.2"/>
<text class="lgs" transform="translate(402.40,269.60) scale(1,1.08)" font-size="8.7px" text-anchor="end">1000K</text>
<line x1="406.6" y1="246.2" x2="426" y2="246.2" stroke="#2222f8" stroke-width="1.2"/>
<text class="lgs" transform="translate(451.80,249.20) scale(1,1.08)" font-size="8.7px" text-anchor="end">2000K</text>
<line x1="406.6" y1="256.4" x2="426" y2="256.4" stroke="#38f4ff" stroke-width="1.2"/>
<text class="lgs" transform="translate(451.80,259.40) scale(1,1.08)" font-size="8.7px" text-anchor="end">2500K</text>
<line x1="406.6" y1="266.59999999999997" x2="426" y2="266.59999999999997" stroke="#f020f0" stroke-width="1.2"/>
<text class="lgs" transform="translate(451.80,269.60) scale(1,1.08)" font-size="8.7px" text-anchor="end">3700K</text>
<text class="lg" transform="translate(265.60,189.80) scale(1,1.0)" font-size="7.5px" letter-spacing="0.3">x<tspan dy="-3.4" font-size="5.2px">2</tspan><tspan dy="3.4">-y</tspan><tspan dy="-3.4" font-size="5.2px">2</tspan></text>
<line x1="637.3" y1="173.9" x2="656.1" y2="173.9" stroke="#f52020" stroke-width="1.3"/>
<text class="lgs" transform="translate(659.50,177.10) scale(1,1.08)" font-size="8.6px" letter-spacing="0.4">5 eV</text>
<line x1="637.3" y1="184.20000000000002" x2="656.1" y2="184.20000000000002" stroke="#38f4ff" stroke-width="1.3"/>
<text class="lgs" transform="translate(659.50,187.40) scale(1,1.08)" font-size="8.6px" letter-spacing="0.4">7 eV</text>
<line x1="637.3" y1="194.5" x2="656.1" y2="194.5" stroke="#2222f8" stroke-width="1.3"/>
<text class="lgs" transform="translate(659.50,197.70) scale(1,1.08)" font-size="8.6px" letter-spacing="0.4">9 eV</text>
<text class="lg" transform="translate(591.30,268.30) scale(1,1.0)" font-size="7.5px" letter-spacing="0.3">x<tspan dy="-3.4" font-size="5.2px">2</tspan><tspan dy="3.4">-y</tspan><tspan dy="-3.4" font-size="5.2px">2</tspan></text>
<text class="ti" transform="translate(122.30,8.30) scale(1,1.08)" font-size="12px" text-anchor="middle"><tspan font-style="italic">U</tspan> = 7 eV, <tspan font-style="italic">T</tspan> = 150 K</text>
<text class="ti" transform="translate(348.80,8.30) scale(1,1.08)" font-size="12px" text-anchor="middle"><tspan font-style="italic">U</tspan> = 7 eV</text>
<text class="ti" transform="translate(575.80,8.30) scale(1,1.08)" font-size="12px" text-anchor="middle"><tspan font-style="italic">T</tspan> = 150 K</text>
<text class="ti" transform="translate(120.00,156.50) scale(1,1.08)" font-size="12px" text-anchor="middle" font-style="italic">Energy (eV)</text>
<text class="ti" transform="translate(346.10,156.50) scale(1,1.08)" font-size="12px" text-anchor="middle" font-style="italic">Energy (eV)</text>
<text class="ti" transform="translate(572.50,156.60) scale(1,1.08)" font-size="12px" text-anchor="middle" font-style="italic">Energy (eV)</text>
<text class="ti" transform="translate(120.00,307.20) scale(1,1.08)" font-size="12px" text-anchor="middle" font-style="italic">Energy (eV)</text>
<text class="ti" transform="translate(346.10,307.40) scale(1,1.08)" font-size="12px" text-anchor="middle" font-style="italic">Energy (eV)</text>
<text class="ti" transform="translate(572.50,307.00) scale(1,1.08)" font-size="12px" text-anchor="middle" font-style="italic">Energy (eV)</text>
<text class="ti" font-style="italic" font-size="12.4px" transform="translate(9.0,72) rotate(-90)" text-anchor="middle">Density of States</text>
<text class="ti" font-style="italic" font-size="12.2px" transform="translate(8.9,224.7) rotate(-90)" text-anchor="middle">Hybridization [-Imag(&#916;)]</text>
<text class="sr" transform="translate(57.70,115.00) scale(1,1.08)" font-size="12px" text-anchor="middle">(a)</text>
<text class="sr" transform="translate(278.40,121.60) scale(1,1.08)" font-size="12px" text-anchor="middle">(c)</text>
<text class="sr" transform="translate(501.30,122.00) scale(1,1.08)" font-size="12px" text-anchor="middle">(e)</text>
<text class="sr" transform="translate(57.80,259.60) scale(1,1.08)" font-size="12px" text-anchor="middle">(b)</text>
<text class="sr" transform="translate(278.80,259.60) scale(1,1.08)" font-size="12px" text-anchor="middle">(d)</text>
<text class="sr" transform="translate(500.80,259.50) scale(1,1.08)" font-size="12px" text-anchor="middle">(f)</text>
</svg></body></html>
